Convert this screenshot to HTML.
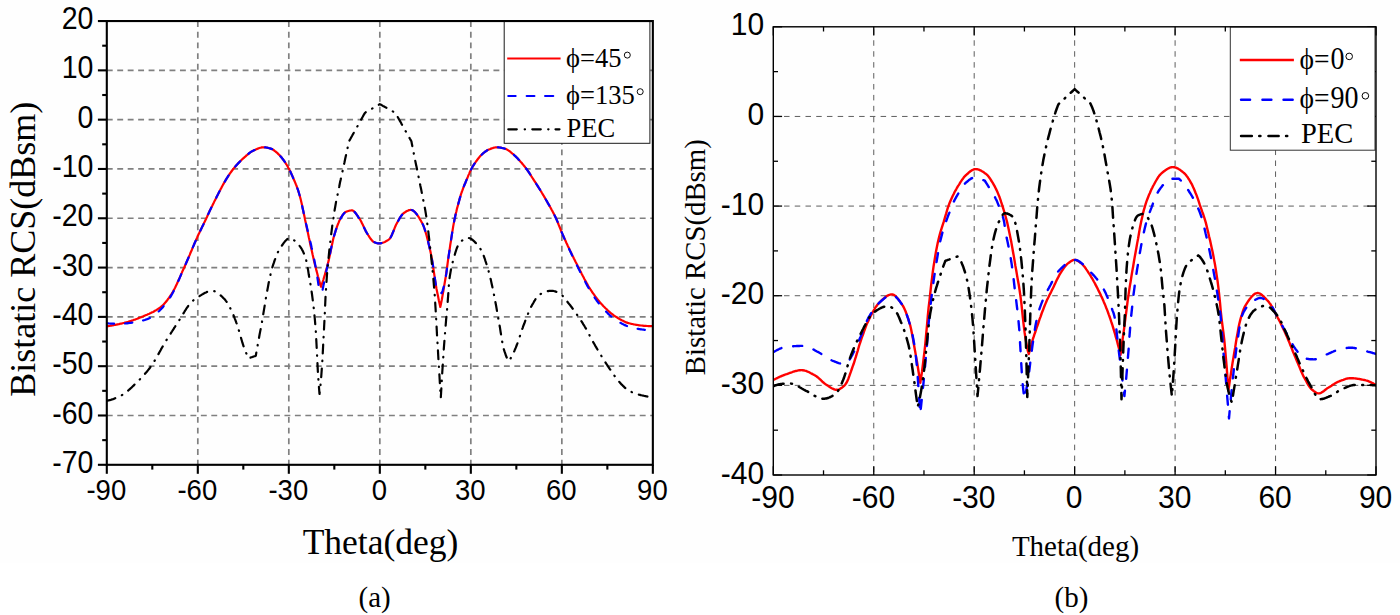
<!DOCTYPE html>
<html><head><meta charset="utf-8"><title>Bistatic RCS</title>
<style>html,body{margin:0;padding:0;background:#fff;}body{width:1400px;height:615px;overflow:hidden;font-family:"Liberation Sans",sans-serif;}svg{display:block;}</style></head>
<body>
<svg width="1400" height="615" viewBox="0 0 1400 615">
<rect width="1400" height="615" fill="#fff"/>
<rect width="1400" height="563" fill="#fefefe"/>
<g id="left">
<g stroke="#808080" stroke-width="1.7" fill="none">
<line x1="106.8" y1="70.36" x2="652.85" y2="70.36" stroke-dasharray="5.9 4.55"/>
<line x1="106.8" y1="119.66" x2="652.85" y2="119.66" stroke-dasharray="5.9 4.55"/>
<line x1="106.8" y1="168.97" x2="652.85" y2="168.97" stroke-dasharray="5.9 4.55"/>
<line x1="106.8" y1="218.27" x2="652.85" y2="218.27" stroke-dasharray="5.9 4.55"/>
<line x1="106.8" y1="267.58" x2="652.85" y2="267.58" stroke-dasharray="5.9 4.55"/>
<line x1="106.8" y1="316.88" x2="652.85" y2="316.88" stroke-dasharray="5.9 4.55"/>
<line x1="106.8" y1="366.19" x2="652.85" y2="366.19" stroke-dasharray="5.9 4.55"/>
<line x1="106.8" y1="415.49" x2="652.85" y2="415.49" stroke-dasharray="5.9 4.55"/>
<line x1="197.81" y1="21.05" x2="197.81" y2="464.8" stroke-dasharray="5.9 4.8"/>
<line x1="288.82" y1="21.05" x2="288.82" y2="464.8" stroke-dasharray="5.9 4.8"/>
<line x1="379.83" y1="21.05" x2="379.83" y2="464.8" stroke-dasharray="5.9 4.8"/>
<line x1="470.83" y1="21.05" x2="470.83" y2="464.8" stroke-dasharray="5.9 4.8"/>
<line x1="561.84" y1="21.05" x2="561.84" y2="464.8" stroke-dasharray="5.9 4.8"/>
</g>
<clipPath id="cl"><rect x="106.8" y="21.05" width="546.0500000000001" height="443.75"/></clipPath>
<g clip-path="url(#cl)" fill="none" stroke-linejoin="round">
<path d="M106.8,326.3 L107.6,326.2 L108.3,326.1 L109.1,326.0 L109.8,325.8 L110.6,325.7 L111.4,325.6 L112.1,325.5 L112.9,325.3 L113.6,325.2 L114.4,325.0 L115.2,324.9 L115.9,324.7 L116.7,324.6 L117.4,324.4 L118.2,324.3 L119.0,324.1 L119.7,323.9 L120.5,323.7 L121.2,323.6 L122.0,323.4 L122.7,323.2 L123.5,323.0 L124.3,322.8 L125.0,322.6 L125.8,322.4 L126.5,322.2 L127.3,322.0 L128.1,321.8 L128.8,321.6 L129.6,321.4 L130.3,321.1 L131.1,320.9 L131.9,320.6 L132.6,320.4 L133.4,320.1 L134.1,319.8 L134.9,319.6 L135.7,319.3 L136.4,319.0 L137.2,318.7 L137.9,318.4 L138.7,318.1 L139.5,317.8 L140.2,317.5 L141.0,317.2 L141.7,316.9 L142.5,316.5 L143.3,316.2 L144.0,315.9 L144.8,315.6 L145.5,315.3 L146.3,315.0 L147.1,314.7 L147.8,314.3 L148.6,314.0 L149.3,313.7 L150.1,313.3 L150.8,313.0 L151.6,312.6 L152.4,312.2 L153.1,311.9 L153.9,311.5 L154.6,311.0 L155.4,310.6 L156.2,310.2 L156.9,309.7 L157.7,309.2 L158.4,308.7 L159.2,308.2 L160.0,307.7 L160.7,307.1 L161.5,306.5 L162.2,305.8 L163.0,305.1 L163.8,304.3 L164.5,303.5 L165.3,302.6 L166.0,301.7 L166.8,300.7 L167.6,299.7 L168.3,298.7 L169.1,297.7 L169.8,296.6 L170.6,295.5 L171.4,294.4 L172.1,293.1 L172.9,291.8 L173.6,290.4 L174.4,289.0 L175.2,287.5 L175.9,285.9 L176.7,284.3 L177.4,282.7 L178.2,281.0 L179.0,279.3 L179.7,277.6 L180.5,275.9 L181.2,274.1 L182.0,272.4 L182.7,270.7 L183.5,269.0 L184.3,267.3 L185.0,265.7 L185.8,264.0 L186.5,262.2 L187.3,260.5 L188.1,258.7 L188.8,256.9 L189.6,255.1 L190.3,253.3 L191.1,251.5 L191.9,249.7 L192.6,247.9 L193.4,246.1 L194.1,244.3 L194.9,242.6 L195.7,240.8 L196.4,239.1 L197.2,237.4 L197.9,235.7 L198.7,234.1 L199.5,232.5 L200.2,230.9 L201.0,229.3 L201.7,227.8 L202.5,226.2 L203.3,224.7 L204.0,223.1 L204.8,221.5 L205.5,220.0 L206.3,218.4 L207.1,216.7 L207.8,215.0 L208.6,213.4 L209.3,211.7 L210.1,210.1 L210.8,208.6 L211.6,207.0 L212.4,205.5 L213.1,204.0 L213.9,202.4 L214.6,200.9 L215.4,199.4 L216.2,197.9 L216.9,196.4 L217.7,194.9 L218.4,193.4 L219.2,191.9 L220.0,190.5 L220.7,189.0 L221.5,187.6 L222.2,186.2 L223.0,184.8 L223.8,183.4 L224.5,182.1 L225.3,180.8 L226.0,179.5 L226.8,178.3 L227.6,177.1 L228.3,175.9 L229.1,174.8 L229.8,173.7 L230.6,172.6 L231.4,171.5 L232.1,170.5 L232.9,169.5 L233.6,168.6 L234.4,167.6 L235.2,166.7 L235.9,165.8 L236.7,165.0 L237.4,164.2 L238.2,163.3 L238.9,162.5 L239.7,161.8 L240.5,161.0 L241.2,160.3 L242.0,159.5 L242.7,158.8 L243.5,158.1 L244.3,157.5 L245.0,156.8 L245.8,156.1 L246.5,155.4 L247.3,154.8 L248.1,154.1 L248.8,153.5 L249.6,152.9 L250.3,152.4 L251.1,151.8 L251.9,151.4 L252.6,151.0 L253.4,150.6 L254.1,150.3 L254.9,149.9 L255.7,149.5 L256.4,149.2 L257.2,148.9 L257.9,148.6 L258.7,148.3 L259.5,148.0 L260.2,147.8 L261.0,147.6 L261.7,147.4 L262.5,147.3 L263.3,147.3 L264.0,147.3 L264.8,147.3 L265.5,147.4 L266.3,147.5 L267.0,147.7 L267.8,147.8 L268.6,148.0 L269.3,148.2 L270.1,148.4 L270.8,148.7 L271.6,148.9 L272.4,149.3 L273.1,149.7 L273.9,150.2 L274.6,150.8 L275.4,151.4 L276.2,152.1 L276.9,152.7 L277.7,153.4 L278.4,154.1 L279.2,154.8 L280.0,155.7 L280.7,156.5 L281.5,157.4 L282.2,158.4 L283.0,159.4 L283.8,160.4 L284.5,161.5 L285.3,162.6 L286.0,163.8 L286.8,165.0 L287.6,166.3 L288.3,167.7 L289.1,169.1 L289.8,170.6 L290.6,172.1 L291.4,173.8 L292.1,175.5 L292.9,177.2 L293.6,179.0 L294.4,180.8 L295.2,182.6 L295.9,184.4 L296.7,186.3 L297.4,188.4 L298.2,190.6 L298.9,193.0 L299.7,195.7 L300.5,198.6 L301.2,201.6 L302.0,204.9 L302.7,208.6 L303.5,212.2 L304.3,215.8 L305.0,219.4 L305.8,223.0 L306.5,226.6 L307.3,230.2 L308.1,233.7 L308.8,237.3 L309.6,240.8 L310.3,244.4 L311.1,247.8 L311.9,251.3 L312.6,254.6 L313.4,257.9 L314.1,261.2 L314.9,264.4 L315.7,267.4 L316.4,270.4 L317.2,273.3 L317.9,276.2 L318.7,278.9 L319.5,281.6 L320.2,284.2 L321.0,286.8 L321.7,284.6 L322.5,282.3 L323.3,280.0 L324.0,277.5 L324.8,274.9 L325.5,272.3 L326.3,269.5 L327.1,266.7 L327.8,263.8 L328.6,260.9 L329.3,257.6 L330.1,254.0 L330.9,250.3 L331.6,246.6 L332.4,242.9 L333.1,239.6 L333.9,236.5 L334.7,233.9 L335.4,231.5 L336.2,229.1 L336.9,226.9 L337.7,224.8 L338.5,222.9 L339.2,221.1 L340.0,219.6 L340.7,218.2 L341.5,216.9 L342.3,215.7 L343.0,214.6 L343.8,213.6 L344.5,212.8 L345.3,212.2 L346.1,211.8 L346.8,211.5 L347.6,211.2 L348.3,211.0 L349.1,210.8 L349.9,210.6 L350.6,210.5 L351.4,210.4 L352.1,210.4 L352.9,210.6 L353.7,211.1 L354.4,211.8 L355.2,212.6 L355.9,213.6 L356.7,214.7 L357.5,215.8 L358.2,216.9 L359.0,218.0 L359.8,219.1 L360.5,220.3 L361.3,221.7 L362.0,223.3 L362.8,224.8 L363.6,226.4 L364.3,228.1 L365.1,229.6 L365.8,231.2 L366.6,232.6 L367.4,233.8 L368.1,235.0 L368.9,236.2 L369.6,237.3 L370.4,238.5 L371.2,239.5 L371.9,240.4 L372.7,241.2 L373.4,241.8 L374.2,242.1 L375.0,242.5 L375.7,242.8 L376.5,243.0 L377.2,243.2 L378.0,243.4 L378.8,243.4 L379.5,243.4 L380.3,243.3 L381.0,243.2 L381.8,243.0 L382.6,242.8 L383.3,242.5 L384.1,242.2 L384.8,241.9 L385.6,241.5 L386.4,241.1 L387.1,240.6 L387.9,240.2 L388.6,239.7 L389.4,239.1 L390.2,238.1 L390.9,236.8 L391.7,235.3 L392.4,233.5 L393.2,231.7 L394.0,229.8 L394.7,227.9 L395.5,226.0 L396.2,224.4 L397.0,222.9 L397.8,221.6 L398.5,220.3 L399.3,218.9 L400.0,217.7 L400.8,216.5 L401.6,215.4 L402.3,214.4 L403.1,213.7 L403.8,213.1 L404.6,212.5 L405.4,212.0 L406.1,211.5 L406.9,211.1 L407.7,210.7 L408.4,210.4 L409.2,210.1 L409.9,210.0 L410.7,209.9 L411.5,210.0 L412.2,210.2 L413.0,210.6 L413.7,211.1 L414.5,211.7 L415.3,212.5 L416.0,213.4 L416.8,214.4 L417.5,215.4 L418.3,216.5 L419.1,217.7 L419.8,219.0 L420.6,220.3 L421.3,221.6 L422.1,222.9 L422.9,224.4 L423.6,226.2 L424.4,228.3 L425.1,230.6 L425.9,233.2 L426.7,235.9 L427.4,238.8 L428.2,241.9 L428.9,245.1 L429.7,248.3 L430.5,251.7 L431.2,255.4 L432.0,259.7 L432.7,264.5 L433.5,269.5 L434.3,274.6 L435.0,279.6 L435.8,284.4 L436.5,288.7 L437.3,292.7 L438.1,296.5 L438.8,300.2 L439.6,303.7 L440.3,307.0 L441.1,303.2 L441.9,299.2 L442.6,295.1 L443.4,290.8 L444.1,286.4 L444.9,281.8 L445.7,277.0 L446.4,271.9 L447.2,266.5 L447.9,261.1 L448.7,255.6 L449.5,250.4 L450.2,245.3 L451.0,240.5 L451.7,235.7 L452.5,230.9 L453.2,226.4 L454.0,222.1 L454.8,218.2 L455.5,214.8 L456.3,211.7 L457.0,208.6 L457.8,205.7 L458.6,202.9 L459.3,200.1 L460.1,197.5 L460.8,194.9 L461.6,192.5 L462.4,190.4 L463.1,188.3 L463.9,186.4 L464.6,184.5 L465.4,182.7 L466.1,180.9 L466.9,179.0 L467.7,177.2 L468.4,175.4 L469.2,173.6 L469.9,171.9 L470.7,170.3 L471.5,168.8 L472.2,167.4 L473.0,166.1 L473.7,164.9 L474.5,163.7 L475.3,162.6 L476.0,161.5 L476.8,160.5 L477.5,159.5 L478.3,158.5 L479.1,157.5 L479.8,156.6 L480.6,155.7 L481.3,155.0 L482.1,154.2 L482.8,153.6 L483.6,152.9 L484.4,152.3 L485.1,151.7 L485.9,151.2 L486.6,150.7 L487.4,150.2 L488.2,149.8 L488.9,149.5 L489.7,149.2 L490.4,148.9 L491.2,148.6 L492.0,148.3 L492.7,148.1 L493.5,147.8 L494.2,147.6 L495.0,147.5 L495.7,147.3 L496.5,147.3 L497.3,147.3 L498.0,147.3 L498.8,147.4 L499.5,147.5 L500.3,147.6 L501.1,147.7 L501.8,147.9 L502.6,148.1 L503.3,148.3 L504.1,148.5 L504.9,148.7 L505.6,148.9 L506.4,149.2 L507.1,149.6 L507.9,150.1 L508.7,150.6 L509.4,151.1 L510.2,151.7 L510.9,152.3 L511.7,153.0 L512.4,153.6 L513.2,154.2 L514.0,154.9 L514.7,155.6 L515.5,156.3 L516.2,157.0 L517.0,157.8 L517.8,158.6 L518.5,159.5 L519.3,160.3 L520.0,161.1 L520.8,162.0 L521.6,162.8 L522.3,163.7 L523.1,164.6 L523.8,165.5 L524.6,166.4 L525.3,167.4 L526.1,168.4 L526.9,169.4 L527.6,170.5 L528.4,171.6 L529.1,172.7 L529.9,173.9 L530.7,175.1 L531.4,176.3 L532.2,177.5 L532.9,178.7 L533.7,179.9 L534.5,181.1 L535.2,182.2 L536.0,183.4 L536.7,184.5 L537.5,185.7 L538.2,186.9 L539.0,188.1 L539.8,189.3 L540.5,190.5 L541.3,191.8 L542.0,193.0 L542.8,194.3 L543.6,195.6 L544.3,196.9 L545.1,198.2 L545.8,199.5 L546.6,200.8 L547.4,202.2 L548.1,203.5 L548.9,204.8 L549.6,206.2 L550.4,207.5 L551.2,208.9 L551.9,210.2 L552.7,211.6 L553.4,213.1 L554.2,214.5 L554.9,216.0 L555.7,217.6 L556.5,219.3 L557.2,221.1 L558.0,223.0 L558.7,224.9 L559.5,226.8 L560.3,228.7 L561.0,230.6 L561.8,232.5 L562.5,234.2 L563.3,236.0 L564.1,237.7 L564.8,239.3 L565.6,241.0 L566.3,242.7 L567.1,244.3 L567.8,245.9 L568.6,247.5 L569.4,249.1 L570.1,250.7 L570.9,252.3 L571.6,253.8 L572.4,255.4 L573.2,256.9 L573.9,258.5 L574.7,260.0 L575.4,261.5 L576.2,263.0 L577.0,264.5 L577.7,266.0 L578.5,267.5 L579.2,269.0 L580.0,270.4 L580.8,271.9 L581.5,273.4 L582.3,274.9 L583.0,276.3 L583.8,277.8 L584.5,279.2 L585.3,280.6 L586.1,282.0 L586.8,283.4 L587.6,284.7 L588.3,286.0 L589.1,287.3 L589.9,288.5 L590.6,289.7 L591.4,290.8 L592.1,292.0 L592.9,293.1 L593.7,294.2 L594.4,295.2 L595.2,296.3 L595.9,297.3 L596.7,298.3 L597.4,299.3 L598.2,300.2 L599.0,301.1 L599.7,302.0 L600.5,302.9 L601.2,303.7 L602.0,304.5 L602.8,305.4 L603.5,306.2 L604.3,307.0 L605.0,307.7 L605.8,308.5 L606.6,309.2 L607.3,310.0 L608.1,310.7 L608.8,311.4 L609.6,312.0 L610.3,312.7 L611.1,313.3 L611.9,313.9 L612.6,314.5 L613.4,315.0 L614.1,315.6 L614.9,316.1 L615.7,316.6 L616.4,317.1 L617.2,317.5 L617.9,318.0 L618.7,318.5 L619.5,318.9 L620.2,319.4 L621.0,319.8 L621.7,320.2 L622.5,320.6 L623.3,321.0 L624.0,321.4 L624.8,321.7 L625.5,322.1 L626.3,322.4 L627.0,322.6 L627.8,322.9 L628.6,323.1 L629.3,323.3 L630.1,323.5 L630.8,323.7 L631.6,323.9 L632.4,324.0 L633.1,324.2 L633.9,324.4 L634.6,324.5 L635.4,324.7 L636.2,324.8 L636.9,324.9 L637.7,325.0 L638.4,325.2 L639.2,325.3 L639.9,325.4 L640.7,325.5 L641.5,325.5 L642.2,325.6 L643.0,325.7 L643.7,325.8 L644.5,325.8 L645.3,325.9 L646.0,325.9 L646.8,326.0 L647.5,326.0 L648.3,326.1 L649.1,326.1 L649.8,326.2 L650.6,326.2 L651.3,326.2 L652.1,326.2 L652.9,326.3" stroke="#ff0000" stroke-width="2.2"/>
<path d="M106.8,323.3 L107.6,323.4 L108.3,323.4 L109.1,323.5 L109.8,323.5 L110.6,323.6 L111.4,323.6 L112.1,323.7 L112.9,323.7 L113.6,323.7 L114.4,323.7 L115.1,323.8 L115.9,323.8 L116.7,323.8 L117.4,323.8 L118.2,323.8 L118.9,323.8 L119.7,323.8 L120.5,323.8 L121.2,323.7 L122.0,323.7 L122.7,323.7 L123.5,323.6 L124.3,323.6 L125.0,323.5 L125.8,323.4 L126.5,323.3 L127.3,323.3 L128.1,323.2 L128.8,323.1 L129.6,323.0 L130.3,322.9 L131.1,322.8 L131.8,322.7 L132.6,322.5 L133.4,322.4 L134.1,322.3 L134.9,322.2 L135.6,322.1 L136.4,321.9 L137.2,321.8 L137.9,321.7 L138.7,321.5 L139.4,321.4 L140.2,321.2 L141.0,321.0 L141.7,320.8 L142.5,320.6 L143.2,320.4 L144.0,320.2 L144.7,320.0 L145.5,319.7 L146.3,319.4 L147.0,319.2 L147.8,318.9 L148.5,318.6 L149.3,318.3 L150.1,317.9 L150.8,317.6 L151.6,317.2 L152.3,316.7 L153.1,316.2 L153.9,315.6 L154.6,315.1 L155.4,314.4 L156.1,313.8 L156.9,313.1 L157.6,312.4 L158.4,311.7 L159.2,311.0 L159.9,310.2 L160.7,309.5 L161.4,308.7 L162.2,307.9 L163.0,307.0 L163.7,306.1 L164.5,305.2 L165.2,304.2 L166.0,303.3 L166.8,302.2 L167.5,301.2 L168.3,300.1 L169.0,298.9 L169.8,297.8 L170.6,296.6 L171.3,295.4 L172.1,294.0 L172.8,292.7 L173.6,291.2 L174.3,289.7 L175.1,288.1 L175.9,286.5 L176.6,284.8 L177.4,283.1 L178.1,281.4 L178.9,279.7 L179.7,277.9 L180.4,276.2 L181.2,274.4 L181.9,272.6 L182.7,270.9 L183.5,269.2 L184.2,267.5 L185.0,265.8 L185.7,264.0 L186.5,262.3 L187.2,260.5 L188.0,258.8 L188.8,257.0 L189.5,255.2 L190.3,253.4 L191.0,251.6 L191.8,249.8 L192.6,248.0 L193.3,246.2 L194.1,244.5 L194.8,242.7 L195.6,241.0 L196.4,239.2 L197.1,237.5 L197.9,235.9 L198.6,234.2 L199.4,232.6 L200.2,231.0 L200.9,229.5 L201.7,227.9 L202.4,226.4 L203.2,224.8 L203.9,223.3 L204.7,221.7 L205.5,220.1 L206.2,218.5 L207.0,216.9 L207.7,215.2 L208.5,213.5 L209.3,211.9 L210.0,210.3 L210.8,208.7 L211.5,207.2 L212.3,205.6 L213.1,204.1 L213.8,202.6 L214.6,201.1 L215.3,199.6 L216.1,198.1 L216.8,196.5 L217.6,195.0 L218.4,193.5 L219.1,192.1 L219.9,190.6 L220.6,189.2 L221.4,187.8 L222.2,186.4 L222.9,185.0 L223.7,183.6 L224.4,182.2 L225.2,180.9 L226.0,179.6 L226.7,178.4 L227.5,177.2 L228.2,176.0 L229.0,174.9 L229.7,173.8 L230.5,172.7 L231.3,171.7 L232.0,170.6 L232.8,169.6 L233.5,168.7 L234.3,167.7 L235.1,166.8 L235.8,165.9 L236.6,165.1 L237.3,164.3 L238.1,163.4 L238.9,162.6 L239.6,161.9 L240.4,161.1 L241.1,160.3 L241.9,159.6 L242.7,158.9 L243.4,158.2 L244.2,157.5 L244.9,156.9 L245.7,156.2 L246.4,155.5 L247.2,154.9 L248.0,154.2 L248.7,153.6 L249.5,153.0 L250.2,152.4 L251.0,151.9 L251.8,151.4 L252.5,151.0 L253.3,150.7 L254.0,150.3 L254.8,149.9 L255.6,149.6 L256.3,149.2 L257.1,148.9 L257.8,148.6 L258.6,148.3 L259.3,148.0 L260.1,147.8 L260.9,147.6 L261.6,147.5 L262.4,147.3 L263.1,147.3 L263.9,147.3 L264.7,147.3 L265.4,147.4 L266.2,147.5 L266.9,147.6 L267.7,147.8 L268.5,148.0 L269.2,148.2 L270.0,148.4 L270.7,148.6 L271.5,148.9 L272.3,149.2 L273.0,149.7 L273.8,150.2 L274.5,150.7 L275.3,151.3 L276.0,151.9 L276.8,152.6 L277.6,153.3 L278.3,154.0 L279.1,154.7 L279.8,155.5 L280.6,156.4 L281.4,157.3 L282.1,158.2 L282.9,159.2 L283.6,160.3 L284.4,161.3 L285.2,162.4 L285.9,163.6 L286.7,164.8 L287.4,166.1 L288.2,167.5 L288.9,168.9 L289.7,170.3 L290.5,171.8 L291.2,173.5 L292.0,175.2 L292.7,176.9 L293.5,178.7 L294.3,180.5 L295.0,182.3 L295.8,184.1 L296.5,186.0 L297.3,188.0 L298.1,190.2 L298.8,192.5 L299.6,195.2 L300.3,198.0 L301.1,201.0 L301.8,204.3 L302.6,207.9 L303.4,211.6 L304.1,215.1 L304.9,218.5 L305.6,221.9 L306.4,225.1 L307.2,228.4 L307.9,231.6 L308.7,234.8 L309.4,238.0 L310.2,241.2 L311.0,244.5 L311.7,247.9 L312.5,251.3 L313.2,254.9 L314.0,258.6 L314.8,262.4 L315.5,266.4 L316.3,270.6 L317.0,275.3 L317.8,280.3 L318.5,285.3 L319.3,286.7 L320.0,288.1 L320.7,289.5 L321.5,290.9 L322.2,292.2 L322.9,288.3 L323.7,284.4 L324.5,280.6 L325.2,276.8 L326.0,273.1 L326.7,269.4 L327.5,265.8 L328.2,262.2 L329.0,258.6 L329.8,254.9 L330.5,251.2 L331.3,247.6 L332.0,244.1 L332.8,240.8 L333.5,237.8 L334.3,235.1 L335.1,232.6 L335.8,230.2 L336.6,228.0 L337.3,225.8 L338.1,223.8 L338.8,222.0 L339.6,220.3 L340.4,218.8 L341.1,217.6 L341.9,216.3 L342.6,215.2 L343.4,214.1 L344.2,213.2 L344.9,212.5 L345.7,211.9 L346.4,211.6 L347.2,211.3 L347.9,211.1 L348.7,210.9 L349.5,210.7 L350.2,210.5 L351.0,210.4 L351.7,210.4 L352.5,210.5 L353.2,210.8 L354.0,211.4 L354.8,212.1 L355.5,213.0 L356.3,214.0 L357.0,215.1 L357.8,216.2 L358.5,217.3 L359.3,218.4 L360.1,219.6 L360.8,220.9 L361.6,222.3 L362.3,223.9 L363.1,225.5 L363.8,227.1 L364.6,228.7 L365.4,230.2 L366.1,231.7 L366.9,233.0 L367.6,234.2 L368.4,235.4 L369.1,236.6 L369.9,237.7 L370.7,238.8 L371.4,239.9 L372.2,240.7 L372.9,241.4 L373.7,241.9 L374.4,242.2 L375.2,242.6 L376.0,242.8 L376.7,243.1 L377.5,243.3 L378.2,243.4 L379.0,243.4 L379.7,243.4 L380.5,243.3 L381.3,243.2 L382.0,243.0 L382.8,242.7 L383.5,242.4 L384.3,242.1 L385.1,241.8 L385.8,241.4 L386.6,241.0 L387.3,240.5 L388.1,240.0 L388.8,239.5 L389.6,238.9 L390.4,237.8 L391.1,236.5 L391.9,234.9 L392.6,233.1 L393.4,231.2 L394.1,229.3 L394.9,227.4 L395.7,225.7 L396.4,224.0 L397.2,222.6 L397.9,221.3 L398.7,220.0 L399.4,218.7 L400.2,217.4 L401.0,216.2 L401.7,215.2 L402.5,214.3 L403.2,213.5 L404.0,213.0 L404.7,212.4 L405.5,211.9 L406.3,211.5 L407.0,211.0 L407.8,210.6 L408.5,210.3 L409.3,210.1 L410.0,209.9 L410.8,209.9 L411.6,210.0 L412.3,210.2 L413.1,210.6 L413.8,211.2 L414.6,211.8 L415.3,212.6 L416.1,213.5 L416.9,214.5 L417.6,215.5 L418.4,216.7 L419.1,217.9 L419.9,219.1 L420.6,220.4 L421.4,221.7 L422.2,223.0 L422.9,224.6 L423.7,226.4 L424.4,228.5 L425.2,230.8 L425.9,233.3 L426.7,236.0 L427.5,238.9 L428.2,242.0 L429.0,245.2 L429.7,248.4 L430.5,251.8 L431.3,255.5 L432.0,259.6 L432.8,264.0 L433.5,268.8 L434.3,273.8 L435.0,279.1 L435.8,284.6 L436.6,290.3 L437.3,290.7 L438.0,291.1 L438.8,291.5 L439.5,291.9 L440.2,292.4 L441.0,292.8 L441.7,293.2 L442.5,291.1 L443.2,288.6 L444.0,285.6 L444.7,282.3 L445.5,278.5 L446.3,273.9 L447.0,268.7 L447.8,263.0 L448.5,257.2 L449.3,251.6 L450.1,246.3 L450.8,241.4 L451.6,236.6 L452.3,231.8 L453.1,227.2 L453.9,222.9 L454.6,218.9 L455.4,215.4 L456.1,212.3 L456.9,209.2 L457.7,206.2 L458.4,203.4 L459.2,200.6 L459.9,197.9 L460.7,195.4 L461.5,193.0 L462.2,190.7 L463.0,188.7 L463.7,186.7 L464.5,184.8 L465.3,183.0 L466.0,181.2 L466.8,179.4 L467.5,177.5 L468.3,175.7 L469.1,173.9 L469.8,172.2 L470.6,170.5 L471.3,169.0 L472.1,167.6 L472.8,166.3 L473.6,165.1 L474.4,163.9 L475.1,162.8 L475.9,161.7 L476.6,160.7 L477.4,159.6 L478.2,158.6 L478.9,157.7 L479.7,156.7 L480.4,155.9 L481.2,155.1 L482.0,154.4 L482.7,153.7 L483.5,153.0 L484.2,152.4 L485.0,151.8 L485.8,151.3 L486.5,150.8 L487.3,150.3 L488.0,149.9 L488.8,149.6 L489.6,149.3 L490.3,148.9 L491.1,148.6 L491.8,148.4 L492.6,148.1 L493.4,147.9 L494.1,147.6 L494.9,147.5 L495.6,147.4 L496.4,147.3 L497.2,147.3 L497.9,147.3 L498.7,147.4 L499.4,147.5 L500.2,147.6 L501.0,147.7 L501.7,147.9 L502.5,148.0 L503.2,148.2 L504.0,148.4 L504.7,148.6 L505.5,148.9 L506.3,149.2 L507.0,149.6 L507.8,150.0 L508.5,150.5 L509.3,151.1 L510.1,151.6 L510.8,152.3 L511.6,152.9 L512.3,153.5 L513.1,154.1 L513.9,154.8 L514.6,155.5 L515.4,156.2 L516.1,156.9 L516.9,157.7 L517.7,158.5 L518.4,159.4 L519.2,160.2 L519.9,161.0 L520.7,161.9 L521.5,162.7 L522.2,163.6 L523.0,164.5 L523.7,165.4 L524.5,166.3 L525.3,167.3 L526.0,168.3 L526.8,169.3 L527.5,170.3 L528.3,171.5 L529.1,172.6 L529.8,173.8 L530.6,175.0 L531.3,176.2 L532.1,177.4 L532.8,178.6 L533.6,179.8 L534.4,180.9 L535.1,182.1 L535.9,183.2 L536.6,184.4 L537.4,185.6 L538.2,186.8 L538.9,188.0 L539.7,189.2 L540.4,190.4 L541.2,191.6 L542.0,192.9 L542.7,194.2 L543.5,195.5 L544.2,196.8 L545.0,198.1 L545.8,199.4 L546.5,200.7 L547.3,202.0 L548.0,203.4 L548.8,204.7 L549.6,206.0 L550.3,207.4 L551.1,208.7 L551.8,210.1 L552.6,211.5 L553.4,212.9 L554.1,214.4 L554.9,215.9 L555.6,217.5 L556.4,219.2 L557.2,220.9 L557.9,222.8 L558.7,224.7 L559.4,226.6 L560.2,228.5 L561.0,230.4 L561.7,232.3 L562.5,234.1 L563.2,235.8 L564.0,237.6 L564.7,239.3 L565.5,241.0 L566.3,242.7 L567.0,244.4 L567.8,246.0 L568.5,247.7 L569.3,249.4 L570.1,251.0 L570.8,252.6 L571.6,254.2 L572.3,255.8 L573.1,257.4 L573.9,259.0 L574.6,260.6 L575.4,262.2 L576.1,263.7 L576.9,265.3 L577.7,266.8 L578.4,268.3 L579.2,269.9 L579.9,271.4 L580.7,272.9 L581.5,274.5 L582.2,276.0 L583.0,277.5 L583.7,279.0 L584.5,280.5 L585.3,281.9 L586.0,283.4 L586.8,284.8 L587.5,286.2 L588.3,287.5 L589.1,288.8 L589.8,290.1 L590.6,291.3 L591.3,292.6 L592.1,293.8 L592.8,294.9 L593.6,296.1 L594.4,297.2 L595.1,298.3 L595.9,299.4 L596.6,300.5 L597.4,301.5 L598.2,302.5 L598.9,303.5 L599.7,304.4 L600.4,305.3 L601.2,306.2 L602.0,307.1 L602.7,307.9 L603.5,308.8 L604.2,309.6 L605.0,310.4 L605.8,311.3 L606.5,312.0 L607.3,312.8 L608.0,313.6 L608.8,314.3 L609.6,315.0 L610.3,315.7 L611.1,316.4 L611.8,317.0 L612.6,317.6 L613.4,318.2 L614.1,318.7 L614.9,319.3 L615.6,319.8 L616.4,320.3 L617.2,320.8 L617.9,321.3 L618.7,321.7 L619.4,322.2 L620.2,322.7 L621.0,323.1 L621.7,323.5 L622.5,323.9 L623.2,324.3 L624.0,324.7 L624.7,325.1 L625.5,325.4 L626.3,325.7 L627.0,326.0 L627.8,326.3 L628.5,326.5 L629.3,326.8 L630.1,327.0 L630.8,327.2 L631.6,327.4 L632.3,327.6 L633.1,327.8 L633.9,328.0 L634.6,328.2 L635.4,328.3 L636.1,328.5 L636.9,328.6 L637.7,328.8 L638.4,328.9 L639.2,329.1 L639.9,329.2 L640.7,329.3 L641.5,329.4 L642.2,329.5 L643.0,329.6 L643.7,329.7 L644.5,329.8 L645.3,329.9 L646.0,329.9 L646.8,330.0 L647.5,330.1 L648.3,330.2 L649.1,330.2 L649.8,330.3 L650.6,330.3 L651.3,330.4 L652.1,330.4 L652.9,330.4" stroke="#0000ff" stroke-width="2.2" stroke-linecap="round" stroke-dasharray="7.3 11"/>
<path d="M106.8,400.7 L107.6,400.6 L108.3,400.4 L109.1,400.3 L109.8,400.1 L110.6,399.9 L111.3,399.7 L112.1,399.4 L112.9,399.2 L113.6,398.9 L114.4,398.6 L115.1,398.3 L115.9,398.0 L116.6,397.6 L117.4,397.3 L118.2,396.9 L118.9,396.6 L119.7,396.2 L120.4,395.8 L121.2,395.5 L122.0,395.1 L122.7,394.6 L123.5,394.1 L124.2,393.6 L125.0,393.1 L125.7,392.5 L126.5,391.9 L127.3,391.3 L128.0,390.7 L128.8,390.0 L129.5,389.4 L130.3,388.7 L131.0,388.0 L131.8,387.3 L132.6,386.5 L133.3,385.8 L134.1,385.1 L134.8,384.3 L135.6,383.6 L136.3,382.8 L137.1,382.1 L137.9,381.4 L138.6,380.6 L139.4,379.9 L140.1,379.1 L140.9,378.3 L141.6,377.5 L142.4,376.7 L143.2,375.9 L143.9,375.0 L144.7,374.2 L145.4,373.3 L146.2,372.4 L147.0,371.5 L147.7,370.6 L148.5,369.6 L149.2,368.7 L150.0,367.7 L150.7,366.7 L151.5,365.6 L152.3,364.5 L153.0,363.4 L153.8,362.2 L154.5,360.9 L155.3,359.7 L156.0,358.3 L156.8,357.0 L157.6,355.7 L158.3,354.3 L159.1,352.9 L159.8,351.6 L160.6,350.2 L161.3,348.8 L162.1,347.5 L162.9,346.2 L163.6,344.9 L164.4,343.6 L165.1,342.4 L165.9,341.1 L166.6,339.9 L167.4,338.7 L168.2,337.5 L168.9,336.3 L169.7,335.1 L170.4,333.9 L171.2,332.7 L172.0,331.5 L172.7,330.3 L173.5,329.1 L174.2,327.9 L175.0,326.8 L175.7,325.6 L176.5,324.4 L177.3,323.3 L178.0,322.1 L178.8,320.9 L179.5,319.8 L180.3,318.6 L181.0,317.3 L181.8,316.1 L182.6,314.8 L183.3,313.6 L184.1,312.3 L184.8,311.1 L185.6,309.9 L186.3,308.7 L187.1,307.6 L187.9,306.5 L188.6,305.4 L189.4,304.4 L190.1,303.5 L190.9,302.7 L191.7,301.9 L192.4,301.2 L193.2,300.5 L193.9,299.9 L194.7,299.3 L195.4,298.7 L196.2,298.2 L197.0,297.7 L197.7,297.2 L198.5,296.8 L199.2,296.3 L200.0,295.8 L200.7,295.4 L201.5,294.9 L202.3,294.4 L203.0,294.0 L203.8,293.5 L204.5,293.1 L205.3,292.7 L206.0,292.4 L206.8,292.0 L207.6,291.7 L208.3,291.4 L209.1,291.2 L209.8,291.0 L210.6,290.9 L211.3,290.8 L212.1,290.8 L212.9,290.8 L213.6,290.9 L214.4,291.2 L215.1,291.5 L215.9,291.8 L216.7,292.3 L217.4,292.8 L218.2,293.3 L218.9,293.9 L219.7,294.5 L220.4,295.2 L221.2,295.9 L222.0,296.6 L222.7,297.4 L223.5,298.1 L224.2,298.9 L225.0,299.6 L225.7,300.6 L226.5,301.6 L227.3,302.8 L228.0,304.1 L228.8,305.5 L229.5,306.9 L230.3,308.3 L231.0,309.8 L231.8,311.4 L232.6,313.0 L233.3,314.8 L234.1,316.6 L234.8,318.6 L235.6,320.6 L236.3,322.6 L237.1,324.7 L237.9,327.1 L238.6,329.6 L239.4,332.2 L240.1,334.9 L240.9,337.6 L241.7,340.2 L242.4,342.7 L243.2,345.1 L243.9,347.2 L244.7,349.2 L245.4,351.2 L246.2,353.1 L247.0,354.9 L247.7,356.7 L248.5,358.3 L249.2,358.1 L249.9,357.8 L250.7,357.6 L251.4,357.3 L252.1,357.1 L252.8,356.8 L253.6,356.6 L254.3,356.3 L255.0,356.1 L255.8,355.8 L256.5,351.6 L257.3,347.4 L258.0,343.2 L258.8,339.1 L259.5,335.0 L260.3,330.9 L261.1,326.9 L261.8,322.8 L262.6,318.5 L263.3,313.9 L264.1,309.1 L264.9,304.3 L265.6,299.7 L266.4,295.5 L267.1,291.4 L267.9,287.3 L268.6,283.3 L269.4,279.5 L270.2,275.9 L270.9,272.6 L271.7,269.6 L272.4,267.1 L273.2,264.7 L274.0,262.4 L274.7,260.2 L275.5,258.1 L276.2,256.1 L277.0,254.3 L277.7,252.6 L278.5,251.0 L279.3,249.6 L280.0,248.3 L280.8,247.1 L281.5,246.1 L282.3,245.0 L283.1,243.9 L283.8,242.9 L284.6,241.9 L285.3,241.0 L286.1,240.2 L286.8,239.5 L287.6,239.0 L288.4,238.5 L289.1,238.3 L289.9,238.2 L290.6,238.3 L291.4,238.6 L292.2,238.9 L292.9,239.3 L293.7,239.9 L294.4,240.5 L295.2,241.2 L295.9,241.9 L296.7,242.7 L297.5,243.5 L298.2,244.4 L299.0,245.2 L299.7,246.1 L300.5,247.1 L301.3,248.3 L302.0,249.6 L302.8,251.0 L303.5,252.6 L304.3,254.4 L305.0,256.4 L305.8,258.7 L306.6,261.8 L307.3,265.7 L308.1,270.1 L308.8,274.8 L309.6,279.3 L310.4,283.8 L311.1,288.5 L311.9,293.5 L312.6,298.9 L313.4,304.9 L314.1,311.7 L314.9,319.9 L315.7,329.5 L316.4,342.1 L317.2,357.9 L317.9,372.4 L318.7,384.0 L319.5,394.0 L320.2,387.9 L321.0,379.8 L321.7,370.2 L322.5,358.6 L323.2,344.2 L324.0,329.2 L324.8,313.4 L325.5,297.4 L326.3,284.6 L327.0,274.4 L327.8,265.5 L328.6,257.6 L329.3,250.4 L330.1,243.6 L330.8,237.1 L331.6,231.1 L332.3,225.4 L333.1,220.0 L333.9,215.0 L334.6,210.3 L335.4,205.8 L336.1,201.7 L336.9,197.8 L337.7,194.1 L338.4,190.4 L339.2,186.7 L339.9,183.0 L340.7,179.5 L341.4,176.0 L342.2,172.5 L343.0,169.1 L343.7,165.7 L344.5,162.3 L345.2,158.8 L346.0,155.3 L346.8,151.8 L347.5,148.3 L348.3,144.8 L349.0,141.3 L349.8,139.9 L350.6,138.5 L351.3,137.2 L352.1,135.8 L352.8,134.5 L353.6,133.1 L354.3,131.8 L355.1,130.4 L355.9,129.0 L356.6,127.7 L357.4,126.3 L358.1,125.0 L358.9,123.6 L359.7,122.3 L360.4,120.9 L361.2,119.5 L361.9,118.2 L362.7,116.8 L363.4,115.5 L364.2,114.1 L365.0,112.8 L365.7,112.3 L366.4,111.9 L367.2,111.5 L367.9,111.0 L368.7,110.6 L369.4,110.2 L370.2,109.7 L370.9,109.3 L371.6,108.9 L372.4,108.4 L373.1,108.0 L373.9,107.6 L374.6,107.1 L375.4,106.7 L376.1,106.3 L376.9,105.9 L377.6,105.4 L378.3,105.0 L379.1,104.6 L379.8,104.1 L380.6,104.6 L381.4,105.0 L382.1,105.4 L382.9,105.9 L383.7,106.3 L384.5,106.7 L385.2,107.1 L386.0,107.6 L386.8,108.0 L387.6,108.4 L388.3,108.9 L389.1,109.3 L389.9,109.7 L390.7,110.2 L391.4,110.6 L392.2,111.0 L393.0,111.5 L393.7,111.9 L394.5,112.3 L395.3,112.8 L396.1,114.1 L396.8,115.5 L397.6,116.8 L398.4,118.2 L399.1,119.5 L399.9,120.9 L400.7,122.3 L401.4,123.6 L402.2,125.0 L403.0,126.3 L403.7,127.7 L404.5,129.0 L405.2,130.4 L406.0,131.8 L406.8,133.1 L407.5,134.5 L408.3,135.8 L409.1,137.2 L409.8,138.5 L410.6,139.9 L411.4,141.3 L412.1,145.1 L412.9,148.8 L413.6,152.6 L414.4,156.4 L415.1,160.1 L415.9,163.9 L416.7,167.6 L417.4,171.3 L418.2,174.9 L418.9,178.6 L419.7,182.2 L420.4,185.9 L421.2,189.6 L421.9,193.3 L422.7,197.1 L423.4,200.8 L424.2,204.6 L425.0,208.6 L425.7,212.9 L426.5,217.8 L427.2,223.1 L428.0,228.9 L428.7,235.1 L429.5,241.5 L430.2,248.1 L431.0,254.9 L431.7,262.1 L432.5,269.7 L433.3,277.9 L434.0,286.5 L434.8,296.1 L435.5,307.5 L436.3,321.0 L437.0,334.8 L437.8,347.7 L438.5,360.5 L439.3,373.0 L440.0,385.5 L440.8,397.7 L441.6,384.4 L442.3,371.7 L443.1,360.0 L443.8,348.9 L444.6,338.5 L445.4,328.7 L446.1,319.9 L446.9,311.7 L447.6,303.0 L448.4,292.2 L449.1,281.5 L449.9,275.7 L450.7,271.1 L451.4,267.3 L452.2,264.2 L452.9,261.3 L453.7,258.5 L454.5,255.8 L455.2,253.2 L456.0,250.7 L456.7,248.5 L457.5,246.6 L458.2,245.0 L459.0,243.8 L459.8,242.9 L460.5,242.1 L461.3,241.4 L462.0,240.6 L462.8,240.0 L463.6,239.4 L464.3,238.9 L465.1,238.5 L465.8,238.2 L466.6,238.0 L467.3,237.9 L468.1,237.9 L468.9,238.0 L469.6,238.2 L470.4,238.5 L471.1,238.9 L471.9,239.4 L472.7,240.0 L473.4,240.6 L474.2,241.3 L474.9,242.1 L475.7,242.9 L476.4,243.8 L477.2,244.7 L478.0,245.6 L478.7,246.6 L479.5,247.6 L480.2,248.6 L481.0,249.7 L481.8,251.2 L482.5,252.8 L483.3,254.6 L484.0,256.6 L484.8,258.8 L485.5,261.1 L486.3,263.5 L487.1,266.0 L487.8,268.5 L488.6,271.1 L489.3,273.8 L490.1,276.8 L490.9,280.1 L491.6,283.5 L492.4,287.0 L493.1,290.7 L493.9,294.4 L494.6,298.1 L495.4,302.0 L496.2,306.2 L496.9,310.4 L497.7,314.8 L498.4,319.1 L499.2,323.4 L500.0,327.8 L500.7,332.5 L501.5,337.2 L502.2,341.8 L503.0,345.7 L503.7,348.9 L504.5,351.4 L505.3,353.7 L506.0,355.8 L506.8,357.7 L507.5,359.2 L508.3,360.4 L509.1,361.0 L509.8,359.8 L510.6,358.4 L511.3,357.1 L512.1,355.6 L512.8,354.1 L513.6,352.5 L514.4,350.9 L515.1,349.2 L515.9,347.4 L516.6,345.5 L517.4,343.4 L518.1,341.3 L518.9,339.0 L519.7,336.8 L520.4,334.5 L521.2,332.2 L521.9,330.0 L522.7,327.8 L523.4,325.7 L524.2,323.8 L524.9,321.8 L525.7,319.7 L526.5,317.7 L527.2,315.8 L528.0,313.9 L528.7,312.0 L529.5,310.2 L530.2,308.6 L531.0,307.0 L531.8,305.6 L532.5,304.3 L533.3,303.0 L534.0,301.7 L534.8,300.4 L535.5,299.2 L536.3,298.1 L537.1,297.1 L537.8,296.2 L538.6,295.4 L539.3,294.7 L540.1,294.2 L540.8,293.9 L541.6,293.5 L542.4,293.1 L543.1,292.8 L543.9,292.5 L544.6,292.2 L545.4,291.9 L546.1,291.7 L546.9,291.4 L547.7,291.2 L548.4,291.1 L549.2,290.9 L549.9,290.8 L550.7,290.8 L551.4,290.8 L552.2,290.8 L553.0,290.9 L553.7,291.0 L554.5,291.2 L555.2,291.4 L556.0,291.7 L556.7,292.0 L557.5,292.3 L558.2,292.7 L559.0,293.1 L559.8,293.5 L560.5,294.0 L561.3,294.4 L562.0,295.1 L562.8,296.0 L563.5,297.0 L564.3,298.0 L565.1,299.0 L565.8,299.9 L566.6,300.8 L567.3,301.7 L568.1,302.7 L568.8,303.6 L569.6,304.6 L570.4,305.5 L571.1,306.5 L571.9,307.5 L572.6,308.5 L573.4,309.5 L574.1,310.6 L574.9,311.6 L575.7,312.7 L576.4,313.8 L577.2,315.0 L577.9,316.1 L578.7,317.2 L579.4,318.4 L580.2,319.5 L581.0,320.6 L581.7,321.7 L582.5,322.9 L583.2,324.1 L584.0,325.3 L584.7,326.5 L585.5,327.8 L586.3,329.1 L587.0,330.5 L587.8,331.9 L588.5,333.3 L589.3,334.8 L590.0,336.2 L590.8,337.6 L591.5,339.1 L592.3,340.5 L593.1,341.9 L593.8,343.2 L594.6,344.5 L595.3,345.8 L596.1,347.1 L596.8,348.4 L597.6,349.7 L598.4,350.9 L599.1,352.2 L599.9,353.5 L600.6,354.7 L601.4,356.0 L602.1,357.2 L602.9,358.4 L603.7,359.6 L604.4,360.8 L605.2,362.0 L605.9,363.2 L606.7,364.3 L607.4,365.5 L608.2,366.6 L609.0,367.8 L609.7,368.9 L610.5,370.0 L611.2,371.2 L612.0,372.3 L612.7,373.4 L613.5,374.5 L614.3,375.6 L615.0,376.6 L615.8,377.7 L616.5,378.7 L617.3,379.6 L618.0,380.5 L618.8,381.4 L619.6,382.2 L620.3,383.0 L621.1,383.9 L621.8,384.7 L622.6,385.4 L623.3,386.2 L624.1,386.9 L624.8,387.6 L625.6,388.3 L626.4,388.9 L627.1,389.5 L627.9,390.0 L628.6,390.5 L629.4,390.9 L630.1,391.3 L630.9,391.7 L631.7,392.1 L632.4,392.4 L633.2,392.7 L633.9,393.0 L634.7,393.3 L635.4,393.6 L636.2,393.8 L637.0,394.1 L637.7,394.3 L638.5,394.5 L639.2,394.7 L640.0,394.9 L640.7,395.1 L641.5,395.3 L642.3,395.5 L643.0,395.6 L643.8,395.8 L644.5,396.0 L645.3,396.1 L646.0,396.3 L646.8,396.4 L647.6,396.6 L648.3,396.7 L649.1,396.8 L649.8,396.9 L650.6,397.0 L651.3,397.1 L652.1,397.2 L652.9,397.3" stroke="#000" stroke-width="2.2" stroke-linecap="round" stroke-dasharray="8.8 7.3 0.5 7.3"/>
</g>
<rect x="504.2" y="21" width="145.7" height="122.3" fill="#fff" stroke="#1a1a1a" stroke-width="1"/>
<line x1="507.2" y1="58.5" x2="560.6" y2="58.5" stroke="#ff0000" stroke-width="2.2"/>
<line x1="508.3" y1="96" x2="560.6" y2="96" stroke="#0000ff" stroke-width="2.2" stroke-linecap="round" stroke-dasharray="7.3 11.1 7.7 10.7 8.1 102.2"/>
<line x1="508.3" y1="129.3" x2="559.5" y2="129.3" stroke="#000" stroke-width="2.2" stroke-linecap="round" stroke-dasharray="8.5 7.9 0.3 7.3 8.5 7.4 0.3 7.0 4.1 102.2"/>
<g font-family="'Liberation Serif', serif" font-size="26.5" fill="#000">
<text x="566" y="67.3">ϕ=45</text>
<text x="566" y="103.9">ϕ=135</text>
<circle cx="627.3" cy="55.1" r="3.0" fill="none" stroke="#000" stroke-width="0.95"/>
<circle cx="640.2" cy="91.7" r="3.0" fill="none" stroke="#000" stroke-width="0.95"/>
<text x="566.5" y="136.8">PEC</text>
</g>
<rect x="106.8" y="21.05" width="546.0500000000001" height="443.75" fill="none" stroke="#000" stroke-width="2.1"/>
<g stroke="#000" stroke-width="2.1">
<line x1="97.89999999999999" y1="21.05" x2="106.8" y2="21.05"/>
<line x1="102.2" y1="45.70" x2="106.8" y2="45.70"/>
<line x1="97.89999999999999" y1="70.36" x2="106.8" y2="70.36"/>
<line x1="102.2" y1="95.01" x2="106.8" y2="95.01"/>
<line x1="97.89999999999999" y1="119.66" x2="106.8" y2="119.66"/>
<line x1="102.2" y1="144.31" x2="106.8" y2="144.31"/>
<line x1="97.89999999999999" y1="168.97" x2="106.8" y2="168.97"/>
<line x1="102.2" y1="193.62" x2="106.8" y2="193.62"/>
<line x1="97.89999999999999" y1="218.27" x2="106.8" y2="218.27"/>
<line x1="102.2" y1="242.93" x2="106.8" y2="242.93"/>
<line x1="97.89999999999999" y1="267.58" x2="106.8" y2="267.58"/>
<line x1="102.2" y1="292.23" x2="106.8" y2="292.23"/>
<line x1="97.89999999999999" y1="316.88" x2="106.8" y2="316.88"/>
<line x1="102.2" y1="341.54" x2="106.8" y2="341.54"/>
<line x1="97.89999999999999" y1="366.19" x2="106.8" y2="366.19"/>
<line x1="102.2" y1="390.84" x2="106.8" y2="390.84"/>
<line x1="97.89999999999999" y1="415.49" x2="106.8" y2="415.49"/>
<line x1="102.2" y1="440.15" x2="106.8" y2="440.15"/>
<line x1="97.89999999999999" y1="464.80" x2="106.8" y2="464.80"/>
<line x1="106.80" y1="464.8" x2="106.80" y2="473.8"/>
<line x1="152.30" y1="464.8" x2="152.30" y2="469.6"/>
<line x1="197.81" y1="464.8" x2="197.81" y2="473.8"/>
<line x1="243.31" y1="464.8" x2="243.31" y2="469.6"/>
<line x1="288.82" y1="464.8" x2="288.82" y2="473.8"/>
<line x1="334.32" y1="464.8" x2="334.32" y2="469.6"/>
<line x1="379.83" y1="464.8" x2="379.83" y2="473.8"/>
<line x1="425.33" y1="464.8" x2="425.33" y2="469.6"/>
<line x1="470.83" y1="464.8" x2="470.83" y2="473.8"/>
<line x1="516.34" y1="464.8" x2="516.34" y2="469.6"/>
<line x1="561.84" y1="464.8" x2="561.84" y2="473.8"/>
<line x1="607.35" y1="464.8" x2="607.35" y2="469.6"/>
<line x1="652.85" y1="464.8" x2="652.85" y2="473.8"/>
</g>
<g font-family="'Liberation Sans', sans-serif" fill="#000">
<text transform="translate(93.4,29.1) scale(1,1.08)" font-size="28.5" text-anchor="end">20</text>
<text transform="translate(93.4,78.4) scale(1,1.08)" font-size="28.5" text-anchor="end">10</text>
<text transform="translate(93.4,127.7) scale(1,1.08)" font-size="28.5" text-anchor="end">0</text>
<text transform="translate(93.4,177.0) scale(1,1.08)" font-size="28.5" text-anchor="end">-10</text>
<text transform="translate(93.4,226.3) scale(1,1.08)" font-size="28.5" text-anchor="end">-20</text>
<text transform="translate(93.4,275.6) scale(1,1.08)" font-size="28.5" text-anchor="end">-30</text>
<text transform="translate(93.4,324.9) scale(1,1.08)" font-size="28.5" text-anchor="end">-40</text>
<text transform="translate(93.4,374.2) scale(1,1.08)" font-size="28.5" text-anchor="end">-50</text>
<text transform="translate(93.4,423.5) scale(1,1.08)" font-size="28.5" text-anchor="end">-60</text>
<text transform="translate(93.4,472.8) scale(1,1.08)" font-size="28.5" text-anchor="end">-70</text>
<text transform="translate(106.3,500.3) scale(1,1.04)" font-size="27.5" text-anchor="middle">-90</text>
<text transform="translate(197.3,500.3) scale(1,1.04)" font-size="27.5" text-anchor="middle">-60</text>
<text transform="translate(288.3,500.3) scale(1,1.04)" font-size="27.5" text-anchor="middle">-30</text>
<text transform="translate(379.3,500.3) scale(1,1.04)" font-size="27.5" text-anchor="middle">0</text>
<text transform="translate(470.3,500.3) scale(1,1.04)" font-size="27.5" text-anchor="middle">30</text>
<text transform="translate(561.3,500.3) scale(1,1.04)" font-size="27.5" text-anchor="middle">60</text>
<text transform="translate(652.4,500.3) scale(1,1.04)" font-size="27.5" text-anchor="middle">90</text>
</g>
<g font-family="'Liberation Serif', serif" fill="#000">
<text x="380.5" y="554.3" font-size="35.5" text-anchor="middle">Theta(deg)</text>
<text transform="translate(35.4,249.2) rotate(-90)" font-size="36" text-anchor="middle">Bistatic RCS(dBsm)</text>
<text x="374.7" y="607" font-size="29" text-anchor="middle">(a)</text>
</g>
</g>
<g id="right">
<g stroke="#5e5e5e" stroke-width="1" fill="none">
<line x1="773.3" y1="116.44" x2="1376.0" y2="116.44" stroke-dasharray="5.5 5.23"/>
<line x1="773.3" y1="206.08" x2="1376.0" y2="206.08" stroke-dasharray="5.5 5.23"/>
<line x1="773.3" y1="295.72" x2="1376.0" y2="295.72" stroke-dasharray="5.5 5.23"/>
<line x1="773.3" y1="385.36" x2="1376.0" y2="385.36" stroke-dasharray="5.5 5.23"/>
<line x1="873.75" y1="26.8" x2="873.75" y2="475.0" stroke-dasharray="5.5 5.43" stroke-dashoffset="8.4"/>
<line x1="974.20" y1="26.8" x2="974.20" y2="475.0" stroke-dasharray="5.5 5.43" stroke-dashoffset="8.4"/>
<line x1="1074.65" y1="26.8" x2="1074.65" y2="475.0" stroke-dasharray="5.5 5.43" stroke-dashoffset="8.4"/>
<line x1="1175.10" y1="26.8" x2="1175.10" y2="475.0" stroke-dasharray="5.5 5.43" stroke-dashoffset="8.4"/>
<line x1="1275.55" y1="26.8" x2="1275.55" y2="475.0" stroke-dasharray="5.5 5.43" stroke-dashoffset="8.4"/>
</g>
<clipPath id="cr"><rect x="773.3" y="26.8" width="602.7" height="448.2"/></clipPath>
<g clip-path="url(#cr)" fill="none" stroke-linejoin="round">
<path d="M773.3,380.0 L774.1,379.5 L775.0,379.1 L775.8,378.7 L776.6,378.3 L777.5,377.9 L778.3,377.5 L779.1,377.1 L780.0,376.7 L780.8,376.3 L781.7,376.0 L782.5,375.6 L783.3,375.3 L784.2,375.0 L785.0,374.7 L785.8,374.3 L786.7,374.1 L787.5,373.8 L788.3,373.5 L789.2,373.2 L790.0,372.9 L790.8,372.6 L791.7,372.3 L792.5,372.0 L793.3,371.7 L794.2,371.5 L795.0,371.2 L795.8,371.0 L796.7,370.8 L797.5,370.6 L798.4,370.4 L799.2,370.3 L800.0,370.2 L800.9,370.1 L801.7,370.1 L802.5,370.2 L803.4,370.3 L804.2,370.5 L805.0,370.7 L805.9,370.9 L806.7,371.2 L807.5,371.6 L808.4,371.9 L809.2,372.3 L810.0,372.7 L810.9,373.2 L811.7,373.6 L812.6,374.1 L813.4,374.5 L814.2,375.0 L815.1,375.4 L815.9,375.9 L816.7,376.5 L817.6,377.2 L818.4,377.9 L819.2,378.6 L820.1,379.4 L820.9,380.2 L821.7,381.0 L822.6,381.8 L823.4,382.5 L824.2,383.2 L825.1,383.9 L825.9,384.5 L826.8,385.0 L827.6,385.6 L828.4,386.1 L829.3,386.6 L830.1,387.2 L830.9,387.7 L831.8,388.2 L832.6,388.6 L833.4,389.0 L834.3,389.3 L835.1,389.6 L835.9,389.8 L836.8,389.8 L837.6,389.8 L838.4,389.6 L839.3,389.3 L840.1,388.9 L840.9,388.3 L841.8,387.7 L842.6,387.1 L843.5,386.3 L844.3,385.6 L845.1,384.7 L846.0,383.6 L846.8,382.2 L847.6,380.4 L848.5,378.4 L849.3,376.2 L850.1,373.8 L851.0,371.4 L851.8,369.0 L852.6,366.6 L853.5,364.3 L854.3,361.8 L855.1,359.1 L856.0,356.4 L856.8,353.6 L857.7,350.8 L858.5,348.0 L859.3,345.2 L860.2,342.6 L861.0,340.2 L861.8,337.7 L862.7,335.3 L863.5,333.0 L864.3,330.7 L865.2,328.4 L866.0,326.2 L866.8,324.1 L867.7,322.2 L868.5,320.4 L869.3,318.7 L870.2,317.0 L871.0,315.3 L871.9,313.7 L872.7,312.2 L873.5,310.7 L874.4,309.3 L875.2,307.9 L876.0,306.7 L876.9,305.5 L877.7,304.4 L878.5,303.5 L879.4,302.6 L880.2,301.8 L881.0,301.0 L881.9,300.2 L882.7,299.4 L883.5,298.7 L884.4,298.0 L885.2,297.3 L886.0,296.7 L886.9,296.1 L887.7,295.6 L888.6,295.2 L889.4,294.8 L890.2,294.6 L891.1,294.4 L891.9,294.4 L892.7,294.5 L893.6,294.8 L894.4,295.3 L895.2,295.9 L896.1,296.7 L896.9,297.6 L897.7,298.5 L898.6,299.6 L899.4,300.7 L900.2,301.9 L901.1,303.1 L901.9,304.3 L902.8,305.6 L903.6,307.1 L904.4,308.8 L905.3,310.7 L906.1,312.8 L906.9,315.1 L907.8,317.5 L908.6,320.1 L909.4,322.8 L910.3,325.7 L911.1,329.2 L911.9,333.3 L912.8,337.7 L913.6,342.5 L914.4,347.3 L915.3,352.1 L916.1,356.9 L917.0,361.8 L917.8,366.8 L918.6,372.0 L919.5,377.3 L920.3,382.7 L921.1,377.5 L922.0,371.7 L922.8,365.4 L923.6,358.6 L924.5,351.4 L925.3,343.8 L926.1,334.9 L927.0,325.3 L927.8,316.0 L928.6,307.7 L929.5,300.3 L930.3,293.0 L931.1,285.5 L932.0,278.3 L932.8,271.8 L933.6,266.1 L934.5,260.7 L935.3,255.7 L936.1,250.9 L937.0,246.5 L937.8,242.5 L938.7,238.8 L939.5,235.5 L940.3,232.5 L941.2,229.7 L942.0,227.1 L942.8,224.6 L943.7,221.9 L944.5,219.2 L945.3,216.3 L946.2,213.4 L947.0,210.5 L947.8,207.8 L948.7,205.4 L949.5,203.2 L950.3,201.2 L951.2,199.2 L952.0,197.4 L952.8,195.7 L953.7,194.0 L954.5,192.3 L955.3,190.8 L956.2,189.3 L957.0,187.8 L957.8,186.4 L958.7,185.1 L959.5,183.8 L960.3,182.4 L961.2,181.1 L962.0,179.9 L962.9,178.7 L963.7,177.6 L964.5,176.6 L965.4,175.7 L966.2,175.0 L967.0,174.2 L967.9,173.5 L968.7,172.7 L969.5,172.0 L970.4,171.3 L971.2,170.7 L972.0,170.2 L972.9,169.8 L973.7,169.4 L974.5,169.2 L975.4,169.1 L976.2,169.1 L977.0,169.2 L977.9,169.4 L978.7,169.6 L979.5,170.0 L980.4,170.3 L981.2,170.8 L982.0,171.3 L982.9,171.8 L983.7,172.3 L984.5,172.9 L985.4,173.5 L986.2,174.1 L987.1,174.9 L987.9,175.8 L988.7,176.8 L989.6,178.0 L990.4,179.2 L991.2,180.5 L992.1,181.9 L992.9,183.2 L993.7,184.6 L994.6,186.1 L995.4,187.7 L996.2,189.4 L997.1,191.2 L997.9,193.1 L998.7,195.1 L999.6,197.3 L1000.4,199.6 L1001.2,202.2 L1002.1,204.8 L1002.9,207.4 L1003.7,210.0 L1004.6,212.8 L1005.4,215.7 L1006.2,218.8 L1007.1,222.1 L1007.9,225.7 L1008.7,229.6 L1009.6,233.7 L1010.4,237.8 L1011.3,242.1 L1012.1,246.6 L1012.9,251.3 L1013.8,256.1 L1014.6,260.9 L1015.4,265.9 L1016.3,270.8 L1017.1,275.6 L1017.9,280.2 L1018.8,285.0 L1019.6,290.2 L1020.4,295.9 L1021.3,302.7 L1022.1,310.4 L1022.9,318.1 L1023.8,325.8 L1024.6,332.4 L1025.4,337.9 L1026.3,343.0 L1027.1,347.5 L1027.9,351.2 L1028.8,354.0 L1029.6,350.7 L1030.4,347.6 L1031.3,344.6 L1032.1,341.7 L1032.9,339.0 L1033.8,336.4 L1034.6,333.9 L1035.5,331.5 L1036.3,329.0 L1037.1,326.5 L1038.0,324.0 L1038.8,321.6 L1039.6,319.2 L1040.5,316.8 L1041.3,314.5 L1042.1,312.2 L1043.0,310.0 L1043.8,307.8 L1044.6,305.7 L1045.5,303.6 L1046.3,301.7 L1047.1,299.8 L1048.0,298.1 L1048.8,296.4 L1049.6,294.8 L1050.5,293.1 L1051.3,291.5 L1052.1,289.8 L1053.0,288.1 L1053.8,286.4 L1054.6,284.6 L1055.5,282.8 L1056.3,281.1 L1057.1,279.3 L1058.0,277.7 L1058.8,276.1 L1059.6,274.5 L1060.5,273.1 L1061.3,271.8 L1062.1,270.6 L1063.0,269.3 L1063.8,268.1 L1064.6,267.0 L1065.5,265.9 L1066.3,265.0 L1067.1,264.1 L1068.0,263.4 L1068.8,262.8 L1069.6,262.2 L1070.5,261.6 L1071.3,261.0 L1072.1,260.6 L1073.0,260.2 L1073.8,259.9 L1074.7,259.9 L1075.5,259.9 L1076.3,260.2 L1077.2,260.6 L1078.0,261.0 L1078.8,261.6 L1079.7,262.2 L1080.5,262.8 L1081.3,263.4 L1082.2,264.1 L1083.0,265.0 L1083.8,266.0 L1084.7,267.0 L1085.5,268.2 L1086.3,269.4 L1087.2,270.6 L1088.0,271.8 L1088.8,273.1 L1089.7,274.4 L1090.5,275.7 L1091.3,277.1 L1092.2,278.5 L1093.0,280.0 L1093.8,281.5 L1094.7,283.0 L1095.5,284.6 L1096.3,286.2 L1097.2,287.8 L1098.0,289.5 L1098.8,291.2 L1099.7,292.8 L1100.5,294.6 L1101.3,296.3 L1102.2,298.1 L1103.0,300.0 L1103.8,301.9 L1104.7,303.9 L1105.5,305.9 L1106.3,308.0 L1107.2,310.1 L1108.0,312.3 L1108.8,314.6 L1109.7,317.0 L1110.5,319.4 L1111.3,321.9 L1112.2,324.5 L1113.0,327.2 L1113.8,329.9 L1114.7,332.8 L1115.5,335.8 L1116.4,338.8 L1117.2,341.8 L1118.0,345.0 L1118.9,348.2 L1119.7,351.5 L1120.5,354.9 L1121.4,348.8 L1122.2,342.6 L1123.0,336.4 L1123.9,330.2 L1124.7,323.9 L1125.5,317.5 L1126.4,310.9 L1127.2,304.4 L1128.0,298.2 L1128.9,292.4 L1129.7,286.9 L1130.6,281.7 L1131.4,276.6 L1132.2,271.6 L1133.1,266.7 L1133.9,261.8 L1134.7,257.1 L1135.6,252.3 L1136.4,247.7 L1137.2,243.1 L1138.1,238.5 L1138.9,233.8 L1139.7,229.1 L1140.6,224.6 L1141.4,220.5 L1142.3,216.7 L1143.1,213.1 L1143.9,209.8 L1144.8,206.8 L1145.6,204.1 L1146.4,201.6 L1147.3,199.3 L1148.1,197.2 L1148.9,195.1 L1149.8,193.2 L1150.6,191.3 L1151.4,189.4 L1152.3,187.7 L1153.1,186.0 L1154.0,184.5 L1154.8,183.0 L1155.6,181.5 L1156.5,180.0 L1157.3,178.6 L1158.1,177.3 L1159.0,176.1 L1159.8,175.1 L1160.6,174.2 L1161.5,173.4 L1162.3,172.7 L1163.1,172.0 L1164.0,171.3 L1164.8,170.7 L1165.7,170.1 L1166.5,169.5 L1167.3,169.0 L1168.2,168.5 L1169.0,168.1 L1169.8,167.7 L1170.7,167.4 L1171.5,167.2 L1172.3,167.1 L1173.2,167.1 L1174.0,167.2 L1174.8,167.3 L1175.7,167.6 L1176.5,167.9 L1177.4,168.3 L1178.2,168.8 L1179.0,169.3 L1179.9,169.8 L1180.7,170.4 L1181.5,171.1 L1182.4,171.7 L1183.2,172.4 L1184.0,173.0 L1184.9,173.8 L1185.7,174.7 L1186.5,175.8 L1187.4,176.9 L1188.2,178.2 L1189.1,179.5 L1189.9,180.9 L1190.7,182.3 L1191.6,183.8 L1192.4,185.5 L1193.2,187.3 L1194.1,189.2 L1194.9,191.2 L1195.7,193.3 L1196.6,195.4 L1197.4,197.7 L1198.3,200.2 L1199.1,202.7 L1199.9,205.2 L1200.8,207.6 L1201.6,209.9 L1202.4,212.2 L1203.3,214.5 L1204.1,217.0 L1204.9,219.6 L1205.8,222.6 L1206.6,225.9 L1207.4,229.3 L1208.3,232.9 L1209.1,236.5 L1210.0,240.1 L1210.8,243.8 L1211.6,247.6 L1212.5,251.5 L1213.3,255.6 L1214.1,259.9 L1215.0,264.6 L1215.8,269.5 L1216.6,274.9 L1217.5,280.6 L1218.3,286.9 L1219.1,294.0 L1220.0,302.6 L1220.8,311.5 L1221.7,319.6 L1222.5,325.9 L1223.3,331.9 L1224.2,339.2 L1225.0,347.7 L1225.8,357.1 L1226.7,367.3 L1227.5,378.6 L1228.3,390.7 L1229.2,385.0 L1230.0,379.3 L1230.9,373.8 L1231.7,368.3 L1232.5,363.1 L1233.4,357.9 L1234.2,352.9 L1235.1,347.9 L1235.9,342.8 L1236.7,337.7 L1237.6,332.9 L1238.4,328.3 L1239.2,324.2 L1240.1,320.6 L1240.9,317.6 L1241.8,314.8 L1242.6,312.1 L1243.4,309.8 L1244.3,307.8 L1245.1,306.1 L1246.0,304.7 L1246.8,303.4 L1247.6,302.1 L1248.5,300.8 L1249.3,299.6 L1250.2,298.5 L1251.0,297.4 L1251.8,296.4 L1252.7,295.6 L1253.5,294.8 L1254.3,294.2 L1255.2,293.6 L1256.0,293.3 L1256.9,293.1 L1257.7,293.0 L1258.5,293.2 L1259.4,293.4 L1260.2,293.8 L1261.1,294.3 L1261.9,295.0 L1262.7,295.7 L1263.6,296.4 L1264.4,297.3 L1265.3,298.2 L1266.1,299.1 L1266.9,300.0 L1267.8,300.9 L1268.6,301.8 L1269.4,302.9 L1270.3,304.0 L1271.1,305.3 L1272.0,306.7 L1272.8,308.2 L1273.6,309.7 L1274.5,311.3 L1275.3,312.9 L1276.2,314.6 L1277.0,316.2 L1277.8,317.8 L1278.7,319.4 L1279.5,321.0 L1280.4,322.7 L1281.2,324.4 L1282.0,326.1 L1282.9,327.9 L1283.7,329.7 L1284.6,331.5 L1285.4,333.4 L1286.2,335.2 L1287.1,337.1 L1287.9,339.1 L1288.7,341.1 L1289.6,343.1 L1290.4,345.2 L1291.3,347.3 L1292.1,349.4 L1292.9,351.5 L1293.8,353.6 L1294.6,355.6 L1295.5,357.6 L1296.3,359.6 L1297.1,361.6 L1298.0,363.6 L1298.8,365.6 L1299.7,367.6 L1300.5,369.6 L1301.3,371.5 L1302.2,373.4 L1303.0,375.2 L1303.8,376.9 L1304.7,378.5 L1305.5,380.0 L1306.4,381.5 L1307.2,383.1 L1308.0,384.5 L1308.9,385.9 L1309.7,387.1 L1310.6,388.2 L1311.4,389.1 L1312.2,389.8 L1313.1,390.5 L1313.9,391.2 L1314.8,391.8 L1315.6,392.4 L1316.4,392.8 L1317.3,393.2 L1318.1,393.4 L1318.9,393.4 L1319.8,393.3 L1320.6,393.0 L1321.5,392.6 L1322.3,392.1 L1323.1,391.5 L1324.0,390.9 L1324.8,390.2 L1325.7,389.5 L1326.5,388.9 L1327.3,388.3 L1328.2,387.8 L1329.0,387.3 L1329.9,386.8 L1330.7,386.2 L1331.5,385.7 L1332.4,385.1 L1333.2,384.5 L1334.1,384.0 L1334.9,383.5 L1335.7,383.0 L1336.6,382.5 L1337.4,382.1 L1338.2,381.7 L1339.1,381.4 L1339.9,381.0 L1340.8,380.7 L1341.6,380.4 L1342.4,380.1 L1343.3,379.8 L1344.1,379.5 L1345.0,379.2 L1345.8,378.9 L1346.6,378.7 L1347.5,378.5 L1348.3,378.4 L1349.2,378.3 L1350.0,378.2 L1350.8,378.2 L1351.7,378.2 L1352.5,378.2 L1353.3,378.3 L1354.2,378.4 L1355.0,378.4 L1355.9,378.5 L1356.7,378.6 L1357.5,378.8 L1358.4,378.9 L1359.2,379.0 L1360.1,379.2 L1360.9,379.3 L1361.7,379.5 L1362.6,379.6 L1363.4,379.8 L1364.3,380.0 L1365.1,380.2 L1365.9,380.4 L1366.8,380.6 L1367.6,380.9 L1368.4,381.2 L1369.3,381.6 L1370.1,381.9 L1371.0,382.3 L1371.8,382.7 L1372.6,383.1 L1373.5,383.6 L1374.3,384.0 L1375.2,384.5 L1376.0,384.9" stroke="#ff0000" stroke-width="2.4"/>
<path d="M773.3,352.2 L774.1,351.7 L775.0,351.2 L775.8,350.8 L776.7,350.3 L777.5,349.9 L778.3,349.4 L779.2,349.0 L780.0,348.6 L780.9,348.3 L781.7,347.9 L782.5,347.6 L783.4,347.3 L784.2,347.1 L785.0,346.9 L785.9,346.7 L786.7,346.5 L787.6,346.5 L788.4,346.4 L789.2,346.4 L790.1,346.3 L790.9,346.3 L791.8,346.2 L792.6,346.2 L793.4,346.2 L794.3,346.1 L795.1,346.1 L796.0,346.1 L796.8,346.0 L797.6,346.0 L798.5,346.0 L799.3,346.0 L800.1,345.9 L801.0,345.9 L801.8,345.9 L802.7,345.9 L803.5,345.9 L804.3,345.9 L805.2,346.0 L806.0,346.2 L806.9,346.4 L807.7,346.7 L808.5,347.0 L809.4,347.4 L810.2,347.8 L811.1,348.2 L811.9,348.7 L812.7,349.1 L813.6,349.6 L814.4,350.1 L815.2,350.6 L816.1,351.0 L816.9,351.5 L817.8,351.9 L818.6,352.3 L819.4,352.8 L820.3,353.3 L821.1,353.8 L822.0,354.3 L822.8,354.9 L823.6,355.4 L824.5,356.0 L825.3,356.6 L826.2,357.1 L827.0,357.7 L827.8,358.2 L828.7,358.7 L829.5,359.2 L830.4,359.7 L831.2,360.1 L832.0,360.5 L832.9,360.9 L833.7,361.2 L834.5,361.5 L835.4,361.8 L836.2,362.2 L837.1,362.5 L837.9,362.8 L838.7,363.1 L839.6,363.3 L840.4,363.6 L841.3,363.8 L842.1,364.0 L842.9,364.1 L843.8,364.2 L844.6,364.3 L845.5,364.2 L846.3,363.8 L847.1,363.2 L848.0,362.2 L848.8,361.0 L849.6,359.7 L850.5,358.2 L851.3,356.7 L852.2,355.1 L853.0,353.5 L853.8,352.0 L854.7,350.5 L855.5,348.8 L856.4,346.9 L857.2,345.0 L858.0,342.9 L858.9,340.9 L859.7,338.8 L860.6,336.8 L861.4,334.8 L862.2,332.7 L863.1,330.5 L863.9,328.4 L864.8,326.2 L865.6,324.1 L866.4,322.0 L867.3,320.1 L868.1,318.4 L868.9,316.8 L869.8,315.4 L870.6,314.0 L871.5,312.6 L872.3,311.3 L873.1,310.0 L874.0,308.8 L874.8,307.7 L875.7,306.6 L876.5,305.6 L877.3,304.6 L878.2,303.8 L879.0,303.0 L879.9,302.2 L880.7,301.5 L881.5,300.7 L882.4,300.0 L883.2,299.3 L884.0,298.6 L884.9,297.9 L885.7,297.3 L886.6,296.7 L887.4,296.2 L888.2,295.7 L889.1,295.4 L889.9,295.1 L890.8,294.9 L891.6,294.8 L892.4,294.9 L893.3,295.1 L894.1,295.5 L895.0,296.1 L895.8,296.7 L896.6,297.6 L897.5,298.5 L898.3,299.5 L899.1,300.5 L900.0,301.6 L900.8,302.8 L901.7,303.9 L902.5,305.2 L903.3,306.6 L904.2,308.3 L905.0,310.1 L905.9,312.2 L906.7,314.4 L907.5,316.8 L908.4,319.3 L909.2,322.1 L910.1,324.9 L910.9,328.0 L911.7,331.5 L912.6,335.3 L913.4,339.7 L914.3,344.6 L915.1,350.2 L915.9,356.6 L916.8,365.0 L917.6,375.3 L918.4,387.1 L919.3,400.2 L920.1,414.0 L921.0,406.8 L921.8,399.1 L922.6,391.1 L923.5,382.8 L924.3,374.2 L925.2,365.0 L926.0,355.6 L926.9,345.8 L927.7,335.5 L928.5,324.7 L929.4,315.6 L930.2,307.8 L931.1,300.6 L931.9,293.9 L932.7,287.4 L933.6,281.2 L934.4,275.4 L935.3,269.9 L936.1,264.5 L937.0,259.3 L937.8,254.2 L938.6,249.4 L939.5,244.9 L940.3,240.9 L941.2,237.4 L942.0,234.2 L942.8,231.3 L943.7,228.5 L944.5,225.9 L945.4,223.4 L946.2,221.0 L947.1,218.6 L947.9,216.4 L948.7,214.3 L949.6,212.2 L950.4,210.1 L951.3,207.9 L952.1,205.7 L952.9,203.6 L953.8,201.8 L954.6,200.0 L955.5,198.4 L956.3,196.9 L957.2,195.4 L958.0,194.0 L958.8,192.6 L959.7,191.2 L960.5,189.7 L961.4,188.3 L962.2,186.9 L963.0,185.6 L963.9,184.6 L964.7,183.8 L965.6,183.0 L966.4,182.2 L967.3,181.5 L968.1,180.8 L968.9,180.1 L969.8,179.5 L970.6,178.9 L971.5,178.4 L972.3,178.0 L973.1,177.6 L974.0,177.3 L974.8,177.2 L975.7,177.1 L976.5,177.5 L977.3,177.8 L978.2,178.1 L979.0,178.4 L979.8,178.8 L980.6,179.1 L981.5,179.4 L982.3,179.7 L983.1,180.1 L984.0,180.4 L984.8,180.7 L985.6,182.0 L986.5,183.4 L987.3,184.7 L988.2,186.1 L989.0,187.4 L989.8,188.8 L990.7,190.2 L991.5,191.6 L992.4,192.9 L993.2,194.3 L994.1,195.7 L994.9,197.1 L995.7,198.7 L996.6,200.4 L997.4,202.4 L998.3,204.6 L999.1,206.9 L1000.0,209.2 L1000.8,211.5 L1001.7,213.6 L1002.5,215.7 L1003.3,218.3 L1004.2,222.2 L1005.0,228.2 L1005.9,233.7 L1006.7,238.1 L1007.6,242.1 L1008.4,245.9 L1009.2,249.9 L1010.1,254.2 L1010.9,259.2 L1011.8,264.9 L1012.6,271.3 L1013.5,278.0 L1014.3,285.0 L1015.1,292.0 L1016.0,298.8 L1016.8,305.6 L1017.7,312.8 L1018.5,321.0 L1019.4,331.0 L1020.2,345.1 L1021.1,360.8 L1021.9,374.5 L1022.7,384.2 L1023.6,392.5 L1024.4,398.8 L1025.3,395.1 L1026.1,390.9 L1026.9,386.2 L1027.8,381.3 L1028.6,375.6 L1029.5,369.1 L1030.3,362.2 L1031.1,355.4 L1032.0,349.0 L1032.8,343.2 L1033.7,337.4 L1034.5,331.8 L1035.3,326.6 L1036.2,322.0 L1037.0,318.1 L1037.9,314.8 L1038.7,311.7 L1039.5,308.9 L1040.4,306.4 L1041.2,304.1 L1042.1,301.9 L1042.9,299.9 L1043.7,298.0 L1044.6,296.2 L1045.4,294.5 L1046.3,292.8 L1047.1,291.3 L1047.9,289.7 L1048.8,288.1 L1049.6,286.6 L1050.5,285.0 L1051.3,283.4 L1052.1,281.8 L1053.0,280.2 L1053.8,278.6 L1054.7,277.1 L1055.5,275.6 L1056.3,274.2 L1057.2,272.9 L1058.0,271.7 L1058.9,270.7 L1059.7,269.8 L1060.5,269.0 L1061.4,268.1 L1062.2,267.3 L1063.1,266.5 L1063.9,265.8 L1064.7,265.0 L1065.6,264.3 L1066.4,263.6 L1067.3,262.9 L1068.1,262.3 L1068.9,261.8 L1069.8,261.3 L1070.6,260.9 L1071.5,260.5 L1072.3,260.2 L1073.1,260.0 L1074.0,259.9 L1074.8,259.9 L1075.7,259.9 L1076.5,260.1 L1077.3,260.4 L1078.2,260.8 L1079.0,261.3 L1079.9,261.8 L1080.7,262.5 L1081.5,263.1 L1082.4,263.9 L1083.2,264.6 L1084.1,265.4 L1084.9,266.3 L1085.7,267.1 L1086.6,268.0 L1087.4,268.9 L1088.3,269.7 L1089.1,270.6 L1089.9,271.4 L1090.8,272.2 L1091.6,273.1 L1092.5,273.9 L1093.3,274.9 L1094.1,275.8 L1095.0,276.8 L1095.8,277.8 L1096.7,278.8 L1097.5,279.9 L1098.3,281.0 L1099.2,282.2 L1100.0,283.4 L1100.9,284.7 L1101.7,286.0 L1102.5,287.3 L1103.4,288.7 L1104.2,290.2 L1105.1,291.9 L1105.9,293.6 L1106.7,295.6 L1107.6,297.6 L1108.4,299.7 L1109.3,301.9 L1110.1,304.1 L1110.9,306.3 L1111.8,308.4 L1112.6,310.6 L1113.5,312.9 L1114.3,315.8 L1115.1,319.3 L1116.0,325.3 L1116.8,333.6 L1117.7,341.5 L1118.5,348.4 L1119.3,355.2 L1120.2,361.9 L1121.0,368.7 L1121.9,375.5 L1122.7,382.4 L1123.5,389.2 L1124.4,396.1 L1125.2,388.0 L1126.1,379.3 L1126.9,370.0 L1127.7,360.2 L1128.6,349.3 L1129.4,337.3 L1130.3,326.0 L1131.1,316.7 L1132.0,308.4 L1132.8,300.8 L1133.6,293.8 L1134.5,287.3 L1135.3,281.2 L1136.2,275.5 L1137.0,270.0 L1137.9,264.8 L1138.7,259.7 L1139.5,254.7 L1140.4,249.9 L1141.2,245.3 L1142.1,240.9 L1142.9,236.7 L1143.8,232.7 L1144.6,229.0 L1145.5,225.4 L1146.3,222.1 L1147.1,219.2 L1148.0,216.6 L1148.8,214.4 L1149.7,212.3 L1150.5,210.1 L1151.4,207.9 L1152.2,205.6 L1153.0,203.4 L1153.9,201.1 L1154.7,199.0 L1155.6,196.9 L1156.4,195.0 L1157.3,193.3 L1158.1,191.8 L1158.9,190.5 L1159.8,189.3 L1160.6,188.1 L1161.5,187.0 L1162.3,185.8 L1163.2,184.8 L1164.0,183.8 L1164.8,182.8 L1165.7,182.0 L1166.5,181.2 L1167.4,180.5 L1168.2,179.9 L1169.1,179.4 L1169.9,179.1 L1170.7,178.8 L1171.6,178.8 L1172.4,178.8 L1173.3,178.8 L1174.1,178.8 L1174.9,178.8 L1175.8,178.8 L1176.6,178.8 L1177.4,178.8 L1178.3,178.8 L1179.1,178.8 L1179.9,179.6 L1180.8,180.5 L1181.6,181.4 L1182.4,182.4 L1183.3,183.4 L1184.1,184.4 L1184.9,185.5 L1185.8,186.7 L1186.6,187.8 L1187.4,189.0 L1188.3,190.2 L1189.1,191.5 L1189.9,192.8 L1190.8,194.1 L1191.6,195.5 L1192.4,196.9 L1193.3,198.4 L1194.1,199.9 L1194.9,201.5 L1195.7,203.2 L1196.6,204.9 L1197.4,206.7 L1198.2,208.5 L1199.1,210.5 L1199.9,212.6 L1200.7,214.9 L1201.6,217.4 L1202.4,220.3 L1203.2,223.4 L1204.1,226.7 L1204.9,230.2 L1205.7,233.8 L1206.6,237.4 L1207.4,241.0 L1208.2,244.8 L1209.1,248.6 L1209.9,252.5 L1210.7,256.6 L1211.5,260.7 L1212.4,265.0 L1213.2,269.4 L1214.0,273.9 L1214.9,278.6 L1215.7,283.5 L1216.5,288.6 L1217.4,293.9 L1218.2,299.3 L1219.0,304.7 L1219.9,310.2 L1220.7,316.9 L1221.5,326.2 L1222.4,338.4 L1223.2,349.0 L1224.0,358.7 L1224.9,368.1 L1225.7,377.6 L1226.5,387.6 L1227.3,397.7 L1228.2,408.1 L1229.0,418.5 L1229.8,409.1 L1230.7,400.1 L1231.5,391.4 L1232.3,383.2 L1233.2,375.4 L1234.0,367.9 L1234.9,360.7 L1235.7,353.8 L1236.5,347.4 L1237.4,341.5 L1238.2,336.0 L1239.0,330.4 L1239.9,325.2 L1240.7,320.6 L1241.5,317.0 L1242.4,314.7 L1243.2,312.9 L1244.0,311.3 L1244.9,309.8 L1245.7,308.5 L1246.5,307.4 L1247.4,306.4 L1248.2,305.5 L1249.1,304.7 L1249.9,304.0 L1250.7,303.3 L1251.6,302.6 L1252.4,301.9 L1253.2,301.3 L1254.1,300.6 L1254.9,300.1 L1255.7,299.5 L1256.6,299.1 L1257.4,298.7 L1258.2,298.3 L1259.1,298.1 L1259.9,298.0 L1260.7,298.0 L1261.6,298.1 L1262.4,298.3 L1263.3,298.7 L1264.1,299.1 L1264.9,299.6 L1265.8,300.3 L1266.6,300.9 L1267.4,301.7 L1268.3,302.5 L1269.1,303.3 L1269.9,304.1 L1270.8,304.9 L1271.6,306.0 L1272.4,307.3 L1273.3,308.8 L1274.1,310.4 L1274.9,312.1 L1275.8,313.8 L1276.6,315.5 L1277.4,317.0 L1278.3,318.5 L1279.1,320.0 L1280.0,321.5 L1280.8,323.0 L1281.6,324.5 L1282.5,326.0 L1283.3,327.5 L1284.1,329.0 L1285.0,330.5 L1285.8,332.0 L1286.6,333.4 L1287.5,334.9 L1288.3,336.5 L1289.1,338.1 L1290.0,339.7 L1290.8,341.2 L1291.6,342.8 L1292.5,344.3 L1293.3,345.7 L1294.2,347.1 L1295.0,348.3 L1295.8,349.4 L1296.7,350.5 L1297.5,351.6 L1298.3,352.7 L1299.2,353.7 L1300.0,354.7 L1300.8,355.6 L1301.7,356.5 L1302.5,357.2 L1303.3,357.8 L1304.2,358.2 L1305.0,358.5 L1305.8,358.6 L1306.7,358.7 L1307.5,358.9 L1308.4,359.0 L1309.2,359.1 L1310.0,359.2 L1310.9,359.2 L1311.7,359.3 L1312.5,359.3 L1313.4,359.4 L1314.2,359.4 L1315.0,359.3 L1315.9,359.2 L1316.7,358.9 L1317.5,358.7 L1318.4,358.4 L1319.2,358.0 L1320.0,357.6 L1320.9,357.2 L1321.7,356.7 L1322.5,356.3 L1323.4,355.9 L1324.2,355.5 L1325.1,355.1 L1325.9,354.8 L1326.7,354.4 L1327.6,354.1 L1328.4,353.7 L1329.2,353.3 L1330.1,353.0 L1330.9,352.6 L1331.7,352.2 L1332.6,351.8 L1333.4,351.5 L1334.2,351.1 L1335.1,350.8 L1335.9,350.5 L1336.7,350.2 L1337.6,349.9 L1338.4,349.7 L1339.3,349.5 L1340.1,349.3 L1340.9,349.1 L1341.8,348.9 L1342.6,348.7 L1343.4,348.6 L1344.3,348.4 L1345.1,348.2 L1345.9,348.1 L1346.8,348.0 L1347.6,347.9 L1348.4,347.8 L1349.3,347.7 L1350.1,347.7 L1350.9,347.7 L1351.8,347.7 L1352.6,347.8 L1353.5,347.9 L1354.3,348.0 L1355.1,348.2 L1356.0,348.3 L1356.8,348.5 L1357.6,348.7 L1358.5,349.0 L1359.3,349.2 L1360.1,349.4 L1361.0,349.7 L1361.8,349.9 L1362.6,350.2 L1363.5,350.4 L1364.3,350.7 L1365.1,350.9 L1366.0,351.1 L1366.8,351.3 L1367.6,351.6 L1368.5,351.8 L1369.3,352.0 L1370.2,352.2 L1371.0,352.5 L1371.8,352.7 L1372.7,353.0 L1373.5,353.2 L1374.3,353.5 L1375.2,353.7 L1376.0,354.0" stroke="#0000ff" stroke-width="2.4" stroke-linecap="round" stroke-dasharray="9.1 12"/>
<path d="M773.3,386.3 L774.1,385.9 L775.0,385.5 L775.8,385.2 L776.7,385.0 L777.5,384.7 L778.3,384.5 L779.2,384.3 L780.0,384.2 L780.9,384.0 L781.7,383.9 L782.5,383.8 L783.4,383.7 L784.2,383.7 L785.0,383.6 L785.9,383.6 L786.7,383.6 L787.6,383.6 L788.4,383.6 L789.2,383.6 L790.1,383.6 L790.9,383.6 L791.8,383.7 L792.6,383.9 L793.4,384.1 L794.3,384.4 L795.1,384.8 L796.0,385.2 L796.8,385.6 L797.6,386.0 L798.5,386.5 L799.3,387.0 L800.1,387.5 L801.0,388.0 L801.8,388.5 L802.7,389.0 L803.5,389.5 L804.3,389.9 L805.2,390.4 L806.0,390.8 L806.9,391.2 L807.7,391.6 L808.5,392.1 L809.4,392.6 L810.2,393.1 L811.1,393.6 L811.9,394.1 L812.7,394.7 L813.6,395.2 L814.4,395.7 L815.3,396.2 L816.1,396.6 L816.9,397.1 L817.8,397.5 L818.6,397.8 L819.4,398.1 L820.3,398.4 L821.1,398.6 L822.0,398.7 L822.8,398.8 L823.6,398.8 L824.5,398.7 L825.3,398.6 L826.2,398.5 L827.0,398.3 L827.8,398.0 L828.7,397.7 L829.5,397.4 L830.4,397.0 L831.2,396.6 L832.0,396.2 L832.9,395.7 L833.7,395.2 L834.5,394.7 L835.4,394.1 L836.2,393.4 L837.1,392.4 L837.9,391.2 L838.7,389.7 L839.6,388.1 L840.4,386.3 L841.3,384.4 L842.1,382.5 L842.9,380.6 L843.8,378.3 L844.6,375.8 L845.5,373.1 L846.3,370.3 L847.1,367.4 L848.0,364.5 L848.8,361.7 L849.7,359.0 L850.5,356.6 L851.3,354.5 L852.2,352.3 L853.0,350.3 L853.8,348.3 L854.7,346.3 L855.5,344.4 L856.4,342.5 L857.2,340.7 L858.0,339.0 L858.9,337.2 L859.7,335.6 L860.6,333.9 L861.4,332.3 L862.2,330.7 L863.1,329.0 L863.9,327.4 L864.8,325.7 L865.6,324.1 L866.4,322.5 L867.3,321.0 L868.1,319.5 L868.9,318.1 L869.8,316.8 L870.6,315.7 L871.5,314.6 L872.3,313.7 L873.1,313.0 L874.0,312.3 L874.8,311.7 L875.7,311.2 L876.5,310.6 L877.3,310.0 L878.2,309.5 L879.0,309.0 L879.9,308.5 L880.7,308.1 L881.5,307.7 L882.4,307.3 L883.2,307.0 L884.1,306.7 L884.9,306.5 L885.7,306.3 L886.6,306.1 L887.4,306.1 L888.2,306.0 L889.1,306.1 L889.9,306.4 L890.8,306.8 L891.6,307.4 L892.4,308.0 L893.3,308.8 L894.1,309.6 L895.0,310.4 L895.8,311.3 L896.6,312.5 L897.5,314.0 L898.3,315.8 L899.2,317.7 L900.0,319.7 L900.8,321.8 L901.7,323.9 L902.5,326.0 L903.3,328.2 L904.2,330.5 L905.0,332.9 L905.9,335.5 L906.7,338.3 L907.5,341.3 L908.4,344.6 L909.2,348.3 L910.1,352.8 L910.9,358.0 L911.7,363.7 L912.6,369.7 L913.4,375.6 L914.3,381.5 L915.1,387.6 L915.9,393.8 L916.8,400.3 L917.6,406.9 L918.5,404.0 L919.3,400.4 L920.1,396.2 L921.0,391.6 L921.8,386.5 L922.7,381.1 L923.5,374.9 L924.4,367.6 L925.2,359.7 L926.0,351.4 L926.9,343.2 L927.7,334.9 L928.6,326.1 L929.4,319.0 L930.2,313.6 L931.1,308.8 L931.9,304.7 L932.8,300.9 L933.6,297.3 L934.5,294.0 L935.3,291.0 L936.1,288.1 L937.0,285.4 L937.8,282.7 L938.7,280.1 L939.5,277.5 L940.4,274.9 L941.2,272.4 L942.0,269.9 L942.9,267.5 L943.7,265.2 L944.6,262.9 L945.4,260.8 L946.2,260.5 L947.1,260.2 L947.9,259.9 L948.8,259.6 L949.6,259.3 L950.4,259.0 L951.3,258.7 L952.1,258.4 L952.9,258.1 L953.8,257.8 L954.6,257.5 L955.4,257.2 L956.3,256.9 L957.1,256.6 L958.0,256.3 L958.8,257.5 L959.7,258.9 L960.5,260.5 L961.4,262.3 L962.2,264.3 L963.1,266.4 L963.9,268.8 L964.8,271.5 L965.6,274.4 L966.5,277.6 L967.3,281.2 L968.2,285.5 L969.0,290.7 L969.9,296.5 L970.7,302.8 L971.6,309.8 L972.4,318.0 L973.3,328.1 L974.1,341.1 L975.0,355.1 L975.8,368.6 L976.7,382.2 L977.5,396.1 L978.4,386.9 L979.2,377.5 L980.1,367.9 L980.9,358.2 L981.8,348.1 L982.6,337.8 L983.4,327.5 L984.3,317.6 L985.1,308.0 L986.0,298.5 L986.8,289.5 L987.7,281.4 L988.5,274.0 L989.3,266.8 L990.2,260.0 L991.0,253.6 L991.9,247.8 L992.7,242.9 L993.6,238.8 L994.4,235.3 L995.2,232.1 L996.1,229.2 L996.9,226.6 L997.8,224.4 L998.6,222.4 L999.5,220.7 L1000.3,219.0 L1001.1,217.4 L1002.0,215.9 L1002.8,214.7 L1003.7,213.8 L1004.5,213.3 L1005.4,213.3 L1006.2,213.4 L1007.0,213.5 L1007.9,213.8 L1008.7,214.1 L1009.6,214.6 L1010.4,215.0 L1011.3,215.6 L1012.1,216.2 L1012.9,216.9 L1013.8,218.2 L1014.6,220.6 L1015.5,223.7 L1016.3,227.4 L1017.2,231.7 L1018.0,236.2 L1018.8,240.8 L1019.7,246.4 L1020.5,253.1 L1021.4,260.8 L1022.2,269.4 L1023.1,279.0 L1023.9,291.0 L1024.7,307.0 L1025.6,330.4 L1026.4,360.0 L1027.3,397.0 L1028.1,376.3 L1029.0,354.1 L1029.8,330.3 L1030.7,302.6 L1031.5,283.3 L1032.3,270.7 L1033.2,258.9 L1034.0,247.9 L1034.9,237.3 L1035.7,226.8 L1036.6,215.8 L1037.4,205.0 L1038.3,196.0 L1039.1,188.5 L1040.0,181.7 L1040.8,175.6 L1041.7,170.0 L1042.5,164.9 L1043.3,160.1 L1044.2,155.7 L1045.0,151.5 L1045.9,147.6 L1046.7,143.9 L1047.6,140.4 L1048.4,137.1 L1049.3,133.8 L1050.1,130.6 L1051.0,127.4 L1051.8,124.4 L1052.7,121.4 L1053.5,118.5 L1054.3,115.8 L1055.2,113.2 L1056.0,110.7 L1056.9,108.3 L1057.7,106.1 L1058.6,104.1 L1059.4,103.3 L1060.3,102.5 L1061.1,101.7 L1062.0,100.9 L1062.8,100.1 L1063.7,99.3 L1064.5,98.6 L1065.3,97.8 L1066.2,97.0 L1067.0,96.2 L1067.9,95.4 L1068.7,94.6 L1069.6,93.8 L1070.4,93.0 L1071.3,92.3 L1072.1,91.5 L1073.0,90.7 L1073.8,89.9 L1074.7,89.1 L1075.5,89.9 L1076.3,90.6 L1077.1,91.4 L1078.0,92.1 L1078.8,92.9 L1079.6,93.6 L1080.4,94.4 L1081.3,95.1 L1082.1,95.9 L1082.9,96.6 L1083.8,97.4 L1084.6,98.2 L1085.4,98.9 L1086.2,99.7 L1087.1,100.4 L1087.9,101.2 L1088.7,101.9 L1089.6,102.7 L1090.4,103.4 L1091.2,105.2 L1092.1,107.2 L1092.9,109.4 L1093.8,111.8 L1094.6,114.3 L1095.4,117.0 L1096.3,119.9 L1097.1,122.8 L1098.0,125.9 L1098.8,129.2 L1099.6,132.5 L1100.5,135.8 L1101.3,139.3 L1102.2,142.9 L1103.0,147.0 L1103.9,151.3 L1104.7,155.8 L1105.5,160.5 L1106.4,165.4 L1107.2,170.2 L1108.1,174.8 L1108.9,179.2 L1109.7,183.8 L1110.6,189.3 L1111.4,195.9 L1112.3,205.4 L1113.1,218.3 L1114.0,230.3 L1114.8,242.3 L1115.6,254.9 L1116.5,268.3 L1117.3,282.6 L1118.2,298.1 L1119.0,315.4 L1119.8,335.8 L1120.7,363.7 L1121.5,399.3 L1122.4,374.9 L1123.2,352.6 L1124.0,332.0 L1124.9,313.4 L1125.7,285.4 L1126.6,268.5 L1127.4,258.4 L1128.2,250.3 L1129.1,243.9 L1129.9,238.7 L1130.8,234.6 L1131.6,231.2 L1132.4,228.0 L1133.3,225.1 L1134.1,222.4 L1135.0,220.1 L1135.8,218.2 L1136.6,216.8 L1137.5,215.8 L1138.3,215.3 L1139.2,214.9 L1140.0,214.6 L1140.8,214.3 L1141.7,214.1 L1142.5,214.0 L1143.4,213.9 L1144.2,213.9 L1145.0,214.3 L1145.9,215.0 L1146.7,216.1 L1147.6,217.3 L1148.4,218.8 L1149.2,220.3 L1150.1,222.0 L1150.9,223.7 L1151.8,225.8 L1152.6,228.4 L1153.4,231.4 L1154.3,234.7 L1155.1,238.3 L1156.0,242.0 L1156.8,245.8 L1157.6,249.9 L1158.5,254.3 L1159.3,259.2 L1160.2,264.8 L1161.0,271.2 L1161.8,280.1 L1162.7,290.0 L1163.5,297.4 L1164.4,305.3 L1165.2,318.6 L1166.0,331.3 L1166.9,342.8 L1167.7,353.6 L1168.6,363.6 L1169.4,372.7 L1170.2,381.2 L1171.1,389.0 L1171.9,396.1 L1172.7,384.8 L1173.6,372.7 L1174.4,360.1 L1175.2,346.5 L1176.0,331.2 L1176.8,317.7 L1177.7,307.3 L1178.5,298.3 L1179.3,291.3 L1180.1,286.3 L1180.9,282.1 L1181.8,278.4 L1182.6,275.3 L1183.4,272.7 L1184.2,270.4 L1185.0,268.3 L1185.9,266.4 L1186.7,264.7 L1187.5,263.4 L1188.3,262.6 L1189.1,262.0 L1190.0,261.4 L1190.8,260.8 L1191.6,260.2 L1192.4,259.6 L1193.3,259.0 L1194.1,258.4 L1194.9,257.8 L1195.7,257.2 L1196.6,256.6 L1197.4,256.0 L1198.2,255.4 L1199.0,256.0 L1199.9,256.9 L1200.7,257.9 L1201.6,259.1 L1202.4,260.3 L1203.3,261.7 L1204.1,263.2 L1204.9,264.8 L1205.8,266.7 L1206.6,268.8 L1207.5,271.2 L1208.3,273.7 L1209.1,276.3 L1210.0,279.0 L1210.8,281.7 L1211.7,284.5 L1212.5,287.4 L1213.3,290.4 L1214.2,293.6 L1215.0,297.1 L1215.9,300.7 L1216.7,304.6 L1217.6,308.8 L1218.4,313.6 L1219.2,319.0 L1220.1,326.3 L1220.9,334.9 L1221.8,342.8 L1222.6,350.2 L1223.4,357.7 L1224.3,364.9 L1225.1,371.7 L1226.0,377.9 L1226.8,383.2 L1227.6,387.5 L1228.5,391.4 L1229.3,394.9 L1230.2,398.0 L1231.0,400.5 L1231.9,402.4 L1232.7,397.2 L1233.5,392.0 L1234.4,386.9 L1235.2,381.7 L1236.0,376.6 L1236.9,371.4 L1237.7,366.1 L1238.6,360.6 L1239.4,355.2 L1240.2,350.0 L1241.1,345.2 L1241.9,341.0 L1242.7,337.2 L1243.6,333.6 L1244.4,330.2 L1245.3,327.1 L1246.1,324.3 L1246.9,321.9 L1247.8,319.9 L1248.6,318.2 L1249.5,316.6 L1250.3,315.2 L1251.1,313.9 L1252.0,312.7 L1252.8,311.7 L1253.6,310.8 L1254.5,310.2 L1255.3,309.6 L1256.2,309.1 L1257.0,308.6 L1257.8,308.1 L1258.7,307.7 L1259.5,307.3 L1260.3,306.9 L1261.2,306.6 L1262.0,306.3 L1262.9,306.0 L1263.7,305.8 L1264.5,305.7 L1265.4,305.6 L1266.2,305.6 L1267.1,305.7 L1267.9,306.0 L1268.7,306.5 L1269.6,307.2 L1270.4,307.9 L1271.2,308.7 L1272.1,309.6 L1272.9,310.5 L1273.8,311.4 L1274.6,312.2 L1275.4,313.2 L1276.3,314.2 L1277.1,315.3 L1277.9,316.4 L1278.8,317.7 L1279.6,319.0 L1280.5,320.5 L1281.3,322.2 L1282.1,324.0 L1283.0,326.0 L1283.8,327.9 L1284.7,329.7 L1285.5,331.6 L1286.3,333.4 L1287.2,335.2 L1288.0,337.0 L1288.8,338.9 L1289.7,340.7 L1290.5,342.5 L1291.4,344.4 L1292.2,346.2 L1293.0,348.1 L1293.9,350.0 L1294.7,351.9 L1295.5,353.8 L1296.4,355.8 L1297.2,357.7 L1298.1,359.7 L1298.9,361.7 L1299.7,363.6 L1300.6,365.5 L1301.4,367.4 L1302.3,369.2 L1303.1,371.0 L1303.9,372.8 L1304.8,374.5 L1305.6,376.3 L1306.4,378.0 L1307.3,379.7 L1308.1,381.3 L1309.0,382.9 L1309.8,384.4 L1310.6,385.9 L1311.5,387.3 L1312.3,388.9 L1313.1,390.6 L1314.0,392.2 L1314.8,393.8 L1315.7,395.3 L1316.5,396.6 L1317.3,397.7 L1318.2,398.6 L1319.0,399.1 L1319.9,399.3 L1320.7,399.2 L1321.5,399.1 L1322.4,399.0 L1323.2,398.7 L1324.0,398.5 L1324.9,398.2 L1325.7,397.9 L1326.6,397.6 L1327.4,397.2 L1328.2,396.9 L1329.1,396.5 L1329.9,396.2 L1330.7,395.9 L1331.6,395.4 L1332.4,395.0 L1333.3,394.5 L1334.1,393.9 L1334.9,393.4 L1335.8,392.8 L1336.6,392.3 L1337.4,391.7 L1338.3,391.1 L1339.1,390.6 L1340.0,390.2 L1340.8,389.7 L1341.6,389.3 L1342.5,389.0 L1343.3,388.6 L1344.2,388.2 L1345.0,387.9 L1345.8,387.5 L1346.7,387.1 L1347.5,386.8 L1348.3,386.4 L1349.2,386.1 L1350.0,385.8 L1350.9,385.6 L1351.7,385.4 L1352.5,385.2 L1353.4,385.0 L1354.2,385.0 L1355.0,384.9 L1355.9,384.9 L1356.7,384.9 L1357.6,384.9 L1358.4,384.9 L1359.2,384.9 L1360.1,384.9 L1360.9,384.9 L1361.8,384.9 L1362.6,384.9 L1363.4,384.9 L1364.3,384.9 L1365.1,385.0 L1365.9,385.0 L1366.8,385.0 L1367.6,385.0 L1368.5,385.0 L1369.3,385.1 L1370.1,385.1 L1371.0,385.1 L1371.8,385.1 L1372.6,385.2 L1373.5,385.2 L1374.3,385.3 L1375.2,385.3 L1376.0,385.4" stroke="#000" stroke-width="2.5" stroke-linecap="round" stroke-dasharray="10.7 7.5 0.9 7.5"/>
</g>
<g stroke="#000" stroke-width="1.3">
<line x1="773.3" y1="26.80" x2="782.0999999999999" y2="26.80"/>
<line x1="1376.0" y1="26.80" x2="1367.2" y2="26.80"/>
<line x1="773.3" y1="71.62" x2="778.0" y2="71.62"/>
<line x1="1376.0" y1="71.62" x2="1371.3" y2="71.62"/>
<line x1="773.3" y1="116.44" x2="782.0999999999999" y2="116.44"/>
<line x1="1376.0" y1="116.44" x2="1367.2" y2="116.44"/>
<line x1="773.3" y1="161.26" x2="778.0" y2="161.26"/>
<line x1="1376.0" y1="161.26" x2="1371.3" y2="161.26"/>
<line x1="773.3" y1="206.08" x2="782.0999999999999" y2="206.08"/>
<line x1="1376.0" y1="206.08" x2="1367.2" y2="206.08"/>
<line x1="773.3" y1="250.90" x2="778.0" y2="250.90"/>
<line x1="1376.0" y1="250.90" x2="1371.3" y2="250.90"/>
<line x1="773.3" y1="295.72" x2="782.0999999999999" y2="295.72"/>
<line x1="1376.0" y1="295.72" x2="1367.2" y2="295.72"/>
<line x1="773.3" y1="340.54" x2="778.0" y2="340.54"/>
<line x1="1376.0" y1="340.54" x2="1371.3" y2="340.54"/>
<line x1="773.3" y1="385.36" x2="782.0999999999999" y2="385.36"/>
<line x1="1376.0" y1="385.36" x2="1367.2" y2="385.36"/>
<line x1="773.3" y1="430.18" x2="778.0" y2="430.18"/>
<line x1="1376.0" y1="430.18" x2="1371.3" y2="430.18"/>
<line x1="773.3" y1="475.00" x2="782.0999999999999" y2="475.00"/>
<line x1="1376.0" y1="475.00" x2="1367.2" y2="475.00"/>
<line x1="773.30" y1="475.0" x2="773.30" y2="466.2"/>
<line x1="773.30" y1="26.8" x2="773.30" y2="35.6"/>
<line x1="823.52" y1="475.0" x2="823.52" y2="470.3"/>
<line x1="823.52" y1="26.8" x2="823.52" y2="31.5"/>
<line x1="873.75" y1="475.0" x2="873.75" y2="466.2"/>
<line x1="873.75" y1="26.8" x2="873.75" y2="35.6"/>
<line x1="923.97" y1="475.0" x2="923.97" y2="470.3"/>
<line x1="923.97" y1="26.8" x2="923.97" y2="31.5"/>
<line x1="974.20" y1="475.0" x2="974.20" y2="466.2"/>
<line x1="974.20" y1="26.8" x2="974.20" y2="35.6"/>
<line x1="1024.42" y1="475.0" x2="1024.42" y2="470.3"/>
<line x1="1024.42" y1="26.8" x2="1024.42" y2="31.5"/>
<line x1="1074.65" y1="475.0" x2="1074.65" y2="466.2"/>
<line x1="1074.65" y1="26.8" x2="1074.65" y2="35.6"/>
<line x1="1124.88" y1="475.0" x2="1124.88" y2="470.3"/>
<line x1="1124.88" y1="26.8" x2="1124.88" y2="31.5"/>
<line x1="1175.10" y1="475.0" x2="1175.10" y2="466.2"/>
<line x1="1175.10" y1="26.8" x2="1175.10" y2="35.6"/>
<line x1="1225.32" y1="475.0" x2="1225.32" y2="470.3"/>
<line x1="1225.32" y1="26.8" x2="1225.32" y2="31.5"/>
<line x1="1275.55" y1="475.0" x2="1275.55" y2="466.2"/>
<line x1="1275.55" y1="26.8" x2="1275.55" y2="35.6"/>
<line x1="1325.78" y1="475.0" x2="1325.78" y2="470.3"/>
<line x1="1325.78" y1="26.8" x2="1325.78" y2="31.5"/>
<line x1="1376.00" y1="475.0" x2="1376.00" y2="466.2"/>
<line x1="1376.00" y1="26.8" x2="1376.00" y2="35.6"/>
</g>
<rect x="1230.3" y="27" width="144.7" height="123.2" fill="#fff" stroke="#333" stroke-width="1"/>
<line x1="1239.8" y1="60.1" x2="1293.9" y2="60.1" stroke="#ff0000" stroke-width="2.5"/>
<line x1="1241.05" y1="99.7" x2="1293.9" y2="99.7" stroke="#0000ff" stroke-width="2.5" stroke-linecap="round" stroke-dasharray="9.0 12.4 8.9 12.2 9.1 102.5"/>
<line x1="1241.1" y1="136" x2="1293.9" y2="136" stroke="#000" stroke-width="2.6" stroke-linecap="round" stroke-dasharray="10.7 7.5 1.1 8.1 10.1 7.5 1.1 102.6"/>
<g font-family="'Liberation Serif', serif" fill="#000">
<text transform="translate(1299.5,68.5) scale(1,1.05)" font-size="27.5">ϕ=</text>
<text transform="translate(1330.4,68.6) scale(1,1.14)" font-size="28">0</text>
<text transform="translate(1299.5,107.6) scale(1,1.05)" font-size="27.5">ϕ=</text>
<text transform="translate(1330.4,107.9) scale(1,1.14)" font-size="28">90</text>
<circle cx="1349.2" cy="56.4" r="3.3" fill="none" stroke="#000" stroke-width="1"/>
<circle cx="1365.4" cy="95.8" r="3.3" fill="none" stroke="#000" stroke-width="1"/>
<text x="1301" y="143.4" font-size="28.5">PEC</text>
</g>
<rect x="773.3" y="26.8" width="602.7" height="448.20" fill="none" stroke="#000" stroke-width="1.4"/>
<g font-family="'Liberation Sans', sans-serif" font-size="30" fill="#000">
<text transform="translate(764.1,35.3) scale(1,1.05)" text-anchor="end">10</text>
<text transform="translate(764.1,124.9) scale(1,1.05)" text-anchor="end">0</text>
<text transform="translate(764.1,214.6) scale(1,1.05)" text-anchor="end">-10</text>
<text transform="translate(764.1,304.2) scale(1,1.05)" text-anchor="end">-20</text>
<text transform="translate(764.1,393.9) scale(1,1.05)" text-anchor="end">-30</text>
<text transform="translate(764.1,483.5) scale(1,1.05)" text-anchor="end">-40</text>
<text transform="translate(772.9,507.8) scale(1,1.05)" text-anchor="middle">-90</text>
<text transform="translate(873.4,507.8) scale(1,1.05)" text-anchor="middle">-60</text>
<text transform="translate(973.8,507.8) scale(1,1.05)" text-anchor="middle">-30</text>
<text transform="translate(1074.2,507.8) scale(1,1.05)" text-anchor="middle">0</text>
<text transform="translate(1174.7,507.8) scale(1,1.05)" text-anchor="middle">30</text>
<text transform="translate(1275.1,507.8) scale(1,1.05)" text-anchor="middle">60</text>
<text transform="translate(1375.6,507.8) scale(1,1.05)" text-anchor="middle">90</text>
</g>
<g font-family="'Liberation Serif', serif" fill="#000">
<text x="1075.5" y="555.7" font-size="29" text-anchor="middle">Theta(deg)</text>
<text transform="translate(704.8,257.2) rotate(-90)" font-size="28.8" text-anchor="middle">Bistatic RCS(dBsm)</text>
<text x="1071.5" y="607" font-size="29" text-anchor="middle">(b)</text>
</g>
</g>
</svg>
</body></html>
